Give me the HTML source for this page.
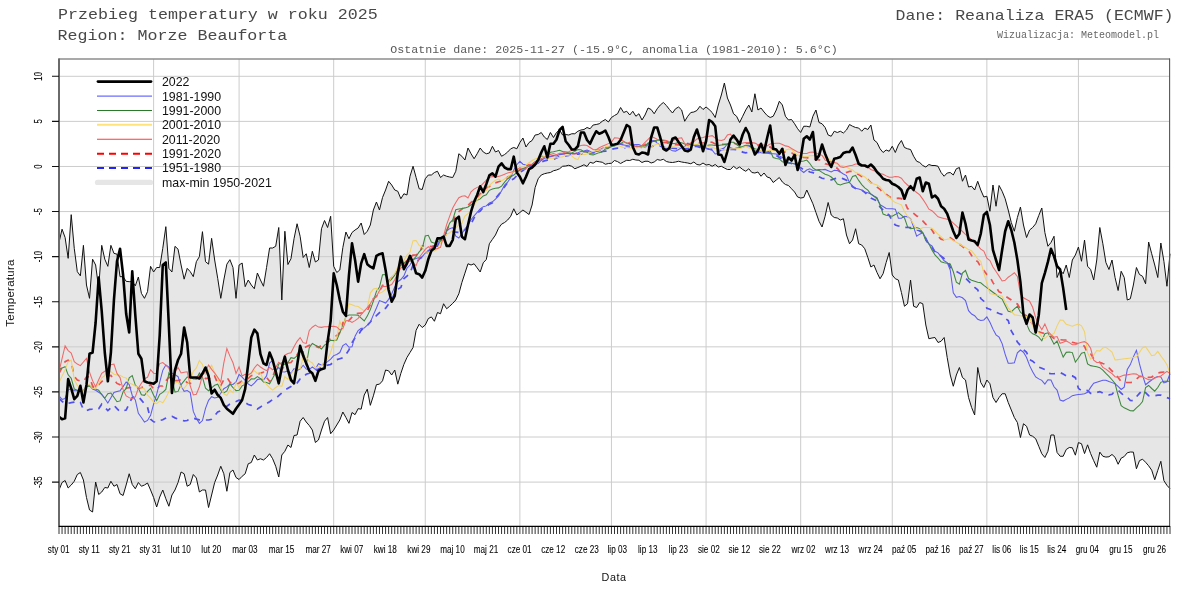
<!DOCTYPE html><html><head><meta charset="utf-8"><style>html,body{margin:0;padding:0;background:#fff;width:1200px;height:600px;overflow:hidden;position:relative}</style></head><body><svg width="1200" height="600" viewBox="0 0 1200 600" style="position:absolute;left:0;top:0;will-change:transform"><path d="M59.00,242.50 L62.05,229.17 L65.10,237.50 L68.16,258.33 L71.21,214.67 L74.26,248.33 L77.31,271.67 L80.37,275.83 L83.42,245.33 L86.47,285.00 L89.52,298.33 L92.57,259.17 L95.63,265.00 L98.68,288.33 L101.73,245.33 L104.78,259.17 L107.84,266.33 L110.89,245.33 L113.94,253.33 L116.99,254.17 L120.04,276.67 L123.10,276.67 L126.15,281.33 L129.20,281.67 L132.25,281.67 L135.30,285.83 L138.36,277.00 L141.41,293.33 L144.46,298.33 L147.51,291.67 L150.57,266.33 L153.62,272.00 L156.67,267.50 L159.72,267.50 L162.77,248.33 L165.83,226.67 L168.88,268.33 L171.93,272.00 L174.98,246.33 L178.04,249.17 L181.09,265.00 L184.14,279.17 L187.19,268.33 L190.24,271.67 L193.30,276.67 L196.35,261.67 L199.40,256.67 L202.45,231.67 L205.51,261.67 L208.56,264.17 L211.61,238.33 L214.66,260.00 L217.71,278.33 L220.77,298.33 L223.82,280.00 L226.87,264.17 L229.92,259.67 L232.98,267.50 L236.03,298.33 L239.08,265.00 L242.13,263.00 L245.18,286.67 L248.24,280.00 L251.29,285.00 L254.34,288.75 L257.39,273.00 L260.45,280.00 L263.50,286.25 L266.55,267.50 L269.60,248.00 L272.65,248.00 L275.71,246.25 L278.76,227.50 L281.81,300.00 L284.86,231.25 L287.91,264.50 L290.97,258.75 L294.02,238.75 L297.07,223.75 L300.12,236.25 L303.18,257.50 L306.23,253.75 L309.28,267.50 L312.33,251.25 L315.38,262.00 L318.44,260.00 L321.49,228.75 L324.54,220.50 L327.59,227.50 L330.65,216.25 L333.70,266.25 L336.75,272.50 L339.80,270.00 L342.85,247.50 L345.91,232.00 L348.96,238.75 L352.01,232.50 L355.06,230.00 L358.12,228.00 L361.17,223.00 L364.22,234.50 L367.27,231.25 L370.32,225.00 L373.38,210.00 L376.43,202.00 L379.48,210.00 L382.53,197.50 L385.59,190.00 L388.64,181.25 L391.69,185.00 L394.74,190.00 L397.79,191.25 L400.85,198.75 L403.90,193.75 L406.95,195.00 L410.00,176.25 L413.05,166.25 L416.11,177.50 L419.16,188.75 L422.21,189.50 L425.26,178.75 L428.32,175.00 L431.37,175.00 L434.42,172.50 L437.47,171.25 L440.52,177.50 L443.58,175.00 L446.63,176.25 L449.68,177.00 L452.73,177.50 L455.79,171.25 L458.84,153.75 L461.89,156.25 L464.94,160.00 L467.99,148.00 L471.05,153.75 L474.10,158.75 L477.15,153.75 L480.20,148.00 L483.26,152.00 L486.31,153.75 L489.36,153.00 L492.41,146.25 L495.46,152.00 L498.52,150.50 L501.57,156.25 L504.62,154.50 L507.67,152.00 L510.73,148.75 L513.78,147.50 L516.83,148.75 L519.88,142.50 L522.93,138.00 L525.99,147.00 L529.04,142.50 L532.09,140.50 L535.14,135.00 L538.20,134.50 L541.25,132.50 L544.30,137.00 L547.35,139.50 L550.40,132.50 L553.46,137.50 L556.51,132.50 L559.56,130.00 L562.61,135.00 L565.66,134.50 L568.72,135.00 L571.77,133.75 L574.82,133.75 L577.87,131.25 L580.93,130.00 L583.98,129.50 L587.03,127.50 L590.08,128.75 L593.13,125.00 L596.19,124.50 L599.24,123.75 L602.29,121.25 L605.34,119.50 L608.40,122.00 L611.45,117.50 L614.50,115.50 L617.55,113.75 L620.60,107.50 L623.66,112.50 L626.71,111.25 L629.76,115.00 L632.81,111.25 L635.87,116.25 L638.92,113.75 L641.97,120.00 L645.02,115.00 L648.07,108.00 L651.13,109.50 L654.18,113.75 L657.23,108.75 L660.28,105.00 L663.34,102.50 L666.39,105.50 L669.44,109.50 L672.49,113.00 L675.54,108.75 L678.60,107.00 L681.65,110.00 L684.70,121.25 L687.75,116.25 L690.80,112.50 L693.86,112.00 L696.91,110.50 L699.96,106.25 L703.01,109.50 L706.07,107.00 L709.12,109.50 L712.17,112.50 L715.22,117.50 L718.27,105.00 L721.33,95.00 L724.38,83.00 L727.43,98.00 L730.48,105.00 L733.54,113.75 L736.59,116.25 L739.64,122.50 L742.69,116.25 L745.74,110.00 L748.80,105.00 L751.85,112.00 L754.90,93.75 L757.95,110.00 L761.01,108.00 L764.06,112.00 L767.11,115.50 L770.16,117.50 L773.21,116.25 L776.27,110.00 L779.32,101.25 L782.37,105.00 L785.42,116.25 L788.48,120.00 L791.53,119.50 L794.58,123.75 L797.63,128.75 L800.68,132.50 L803.74,126.25 L806.79,126.25 L809.84,127.00 L812.89,116.25 L815.95,110.00 L819.00,122.50 L822.05,123.75 L825.10,127.50 L828.15,135.00 L831.21,136.25 L834.26,131.25 L837.31,132.50 L840.36,131.25 L843.41,133.00 L846.47,130.00 L849.52,124.50 L852.57,126.25 L855.62,127.50 L858.68,128.00 L861.73,131.25 L864.78,128.00 L867.83,129.50 L870.88,125.00 L873.94,140.00 L876.99,142.50 L880.04,148.75 L883.09,152.50 L886.15,150.00 L889.20,151.25 L892.25,146.25 L895.30,152.50 L898.35,145.00 L901.41,140.50 L904.46,147.50 L907.51,148.75 L910.56,149.50 L913.62,156.25 L916.67,161.25 L919.72,162.50 L922.77,165.50 L925.82,167.00 L928.88,164.50 L931.93,165.50 L934.98,165.50 L938.03,166.25 L941.09,172.50 L944.14,176.25 L947.19,173.00 L950.24,172.50 L953.29,175.00 L956.35,168.75 L959.40,167.50 L962.45,181.25 L965.50,175.00 L968.55,187.00 L971.61,186.25 L974.66,190.00 L977.71,181.25 L980.76,190.00 L983.82,197.00 L986.87,196.25 L989.92,211.25 L992.97,185.00 L996.02,206.25 L999.08,185.50 L1002.13,191.25 L1005.18,198.75 L1008.23,210.00 L1011.29,222.50 L1014.34,231.25 L1017.39,217.50 L1020.44,207.00 L1023.49,225.00 L1026.55,237.50 L1029.60,230.00 L1032.65,227.50 L1035.70,223.75 L1038.76,215.50 L1041.81,208.00 L1044.86,232.50 L1047.91,246.25 L1050.96,242.50 L1054.02,236.25 L1057.07,277.50 L1060.12,270.00 L1063.17,273.75 L1066.23,265.00 L1069.28,277.50 L1072.33,260.00 L1075.38,255.00 L1078.43,247.00 L1081.49,261.25 L1084.54,240.00 L1087.59,266.25 L1090.64,269.50 L1093.70,280.00 L1096.75,260.00 L1099.80,227.50 L1102.85,243.75 L1105.90,262.50 L1108.96,269.50 L1112.01,260.00 L1115.06,277.50 L1118.11,290.50 L1121.16,271.25 L1124.22,277.50 L1127.27,300.00 L1130.32,298.75 L1133.37,285.00 L1136.43,267.50 L1139.48,274.50 L1142.53,276.25 L1145.58,283.75 L1148.63,242.00 L1151.69,253.75 L1154.74,265.00 L1157.79,277.50 L1160.84,243.00 L1163.90,261.25 L1166.95,286.25 L1170.00,253.75 L1170.00,488.67 L1166.95,485.33 L1163.90,480.67 L1160.84,461.29 L1157.79,470.33 L1154.74,479.71 L1151.69,470.16 L1148.63,465.79 L1145.58,462.25 L1142.53,459.20 L1139.48,460.67 L1136.43,468.75 L1133.37,452.12 L1130.32,452.00 L1127.27,452.78 L1124.22,456.54 L1121.16,458.18 L1118.11,464.25 L1115.06,457.29 L1112.01,454.46 L1108.96,456.75 L1105.90,457.08 L1102.85,456.26 L1099.80,452.12 L1096.75,467.22 L1093.70,460.67 L1090.64,453.58 L1087.59,444.83 L1084.54,453.58 L1081.49,443.74 L1078.43,442.58 L1075.38,455.17 L1072.33,447.75 L1069.28,447.50 L1066.23,449.50 L1063.17,456.25 L1060.12,456.25 L1057.07,452.50 L1054.02,435.00 L1050.96,435.00 L1047.91,451.25 L1044.86,457.50 L1041.81,453.75 L1038.76,446.25 L1035.70,438.75 L1032.65,436.25 L1029.60,435.00 L1026.55,426.25 L1023.49,423.75 L1020.44,437.50 L1017.39,422.50 L1014.34,417.50 L1011.29,410.00 L1008.23,402.50 L1005.18,393.75 L1002.13,393.75 L999.08,397.50 L996.02,402.50 L992.97,397.50 L989.92,383.75 L986.87,380.00 L983.82,387.50 L980.76,382.50 L977.71,367.50 L974.66,415.00 L971.61,407.50 L968.55,397.50 L965.50,380.00 L962.45,377.50 L959.40,367.50 L956.35,375.00 L953.29,386.25 L950.24,375.00 L947.19,357.50 L944.14,337.50 L941.09,341.25 L938.03,342.50 L934.98,337.50 L931.93,338.00 L928.88,338.75 L925.82,325.00 L922.77,303.75 L919.72,302.50 L916.67,307.50 L913.62,306.25 L910.56,280.00 L907.51,303.75 L904.46,306.25 L901.41,292.50 L898.35,280.00 L895.30,278.75 L892.25,275.00 L889.20,252.50 L886.15,262.50 L883.09,273.75 L880.04,278.75 L876.99,272.50 L873.94,265.00 L870.88,267.00 L867.83,257.50 L864.78,248.75 L861.73,245.00 L858.68,243.75 L855.62,228.75 L852.57,240.00 L849.52,243.75 L846.47,235.00 L843.41,218.75 L840.36,220.00 L837.31,218.00 L834.26,217.50 L831.21,215.00 L828.15,202.50 L825.10,216.25 L822.05,227.00 L819.00,221.25 L815.95,212.50 L812.89,203.75 L809.84,196.88 L806.79,190.00 L803.74,197.50 L800.68,198.00 L797.63,197.00 L794.58,192.00 L791.53,188.75 L788.48,185.50 L785.42,184.50 L782.37,182.00 L779.32,177.50 L776.27,180.00 L773.21,182.50 L770.16,178.00 L767.11,177.00 L764.06,173.00 L761.01,176.25 L757.95,172.00 L754.90,173.00 L751.85,172.50 L748.80,168.75 L745.74,171.25 L742.69,169.50 L739.64,167.00 L736.59,168.75 L733.54,166.25 L730.48,169.50 L727.43,169.50 L724.38,168.00 L721.33,166.25 L718.27,167.00 L715.22,164.50 L712.17,166.25 L709.12,164.50 L706.07,165.00 L703.01,163.00 L699.96,165.00 L696.91,164.50 L693.86,162.00 L690.80,163.75 L687.75,163.00 L684.70,162.50 L681.65,162.00 L678.60,161.25 L675.54,162.00 L672.49,162.50 L669.44,162.25 L666.39,161.50 L663.34,159.25 L660.28,160.25 L657.23,159.50 L654.18,162.00 L651.13,163.00 L648.07,161.25 L645.02,161.25 L641.97,162.50 L638.92,160.25 L635.87,160.00 L632.81,159.25 L629.76,160.50 L626.71,160.25 L623.66,161.75 L620.60,163.50 L617.55,161.60 L614.50,160.50 L611.45,163.25 L608.40,163.50 L605.34,164.25 L602.29,162.25 L599.24,161.75 L596.19,161.25 L593.13,163.25 L590.08,162.25 L587.03,166.50 L583.98,164.75 L580.93,166.25 L577.87,167.50 L574.82,168.75 L571.77,166.25 L568.72,165.25 L565.66,166.00 L562.61,166.25 L559.56,168.75 L556.51,170.00 L553.46,170.75 L550.40,172.50 L547.35,173.00 L544.30,173.75 L541.25,175.00 L538.20,178.75 L535.14,187.50 L532.09,205.00 L529.04,214.50 L525.99,212.25 L522.93,210.00 L519.88,212.50 L516.83,215.00 L513.78,208.75 L510.73,216.25 L507.67,220.00 L504.62,222.50 L501.57,224.15 L498.52,228.27 L495.46,235.00 L492.41,239.38 L489.36,243.75 L486.31,259.50 L483.26,262.77 L480.20,272.00 L477.15,267.87 L474.10,263.75 L471.05,265.00 L467.99,263.75 L464.94,273.12 L461.89,282.50 L458.84,293.80 L455.79,300.00 L452.73,303.36 L449.68,306.27 L446.63,308.75 L443.58,303.75 L440.52,313.75 L437.47,312.50 L434.42,321.25 L431.37,316.93 L428.32,318.56 L425.26,325.00 L422.21,327.50 L419.16,324.26 L416.11,330.33 L413.05,347.50 L410.00,352.50 L406.95,357.50 L403.90,364.36 L400.85,373.36 L397.79,384.17 L394.74,370.00 L391.69,375.00 L388.64,370.83 L385.59,370.00 L382.53,380.83 L379.48,384.17 L376.43,384.67 L373.38,395.83 L370.32,405.33 L367.27,389.17 L364.22,395.00 L361.17,409.17 L358.12,408.67 L355.06,414.67 L352.01,412.50 L348.96,423.33 L345.91,417.50 L342.85,412.00 L339.80,420.00 L336.75,425.00 L333.70,430.00 L330.65,433.75 L327.59,417.50 L324.54,421.25 L321.49,430.00 L318.44,440.00 L315.38,442.50 L312.33,430.00 L309.28,425.50 L306.23,422.00 L303.18,417.50 L300.12,421.25 L297.07,435.00 L294.02,435.50 L290.97,447.50 L287.91,445.00 L284.86,451.25 L281.81,455.00 L278.76,477.00 L275.71,466.25 L272.65,458.75 L269.60,453.75 L266.55,457.50 L263.50,460.00 L260.45,458.75 L257.39,460.00 L254.34,455.00 L251.29,462.50 L248.24,463.75 L245.18,473.75 L242.13,476.25 L239.08,479.50 L236.03,477.50 L232.98,470.00 L229.92,472.50 L226.87,491.25 L223.82,473.75 L220.77,466.25 L217.71,475.00 L214.66,482.50 L211.61,495.00 L208.56,507.50 L205.51,490.00 L202.45,490.00 L199.40,492.00 L196.35,478.00 L193.30,474.50 L190.24,484.50 L187.19,486.25 L184.14,473.75 L181.09,472.00 L178.04,482.50 L174.98,490.00 L171.93,495.00 L168.88,506.25 L165.83,498.75 L162.77,490.00 L159.72,497.00 L156.67,507.00 L153.62,497.50 L150.57,490.00 L147.51,483.00 L144.46,485.00 L141.41,486.25 L138.36,482.50 L135.30,488.75 L132.25,484.50 L129.20,473.75 L126.15,485.00 L123.10,495.50 L120.04,493.75 L116.99,484.50 L113.94,486.25 L110.89,481.25 L107.84,488.00 L104.78,487.50 L101.73,492.00 L98.68,494.50 L95.63,482.00 L92.57,512.00 L89.52,510.00 L86.47,497.50 L83.42,480.00 L80.37,472.50 L77.31,474.50 L74.26,481.25 L71.21,485.00 L68.16,488.00 L65.10,480.50 L62.05,482.50 L59.00,490.00 Z" fill="#e6e6e6" stroke="none"/><path d="M59,76.30H1170 M59,121.39H1170 M59,166.48H1170 M59,211.57H1170 M59,256.66H1170 M59,301.75H1170 M59,346.84H1170 M59,391.92H1170 M59,437.01H1170 M59,482.10H1170 M153.62,59V526 M239.08,59V526 M333.70,59V526 M425.26,59V526 M519.88,59V526 M611.45,59V526 M706.07,59V526 M800.68,59V526 M892.25,59V526 M986.87,59V526 M1078.43,59V526" stroke="#cccccc" stroke-width="1" fill="none"/><path d="M59.00,242.50 L62.05,229.17 L65.10,237.50 L68.16,258.33 L71.21,214.67 L74.26,248.33 L77.31,271.67 L80.37,275.83 L83.42,245.33 L86.47,285.00 L89.52,298.33 L92.57,259.17 L95.63,265.00 L98.68,288.33 L101.73,245.33 L104.78,259.17 L107.84,266.33 L110.89,245.33 L113.94,253.33 L116.99,254.17 L120.04,276.67 L123.10,276.67 L126.15,281.33 L129.20,281.67 L132.25,281.67 L135.30,285.83 L138.36,277.00 L141.41,293.33 L144.46,298.33 L147.51,291.67 L150.57,266.33 L153.62,272.00 L156.67,267.50 L159.72,267.50 L162.77,248.33 L165.83,226.67 L168.88,268.33 L171.93,272.00 L174.98,246.33 L178.04,249.17 L181.09,265.00 L184.14,279.17 L187.19,268.33 L190.24,271.67 L193.30,276.67 L196.35,261.67 L199.40,256.67 L202.45,231.67 L205.51,261.67 L208.56,264.17 L211.61,238.33 L214.66,260.00 L217.71,278.33 L220.77,298.33 L223.82,280.00 L226.87,264.17 L229.92,259.67 L232.98,267.50 L236.03,298.33 L239.08,265.00 L242.13,263.00 L245.18,286.67 L248.24,280.00 L251.29,285.00 L254.34,288.75 L257.39,273.00 L260.45,280.00 L263.50,286.25 L266.55,267.50 L269.60,248.00 L272.65,248.00 L275.71,246.25 L278.76,227.50 L281.81,300.00 L284.86,231.25 L287.91,264.50 L290.97,258.75 L294.02,238.75 L297.07,223.75 L300.12,236.25 L303.18,257.50 L306.23,253.75 L309.28,267.50 L312.33,251.25 L315.38,262.00 L318.44,260.00 L321.49,228.75 L324.54,220.50 L327.59,227.50 L330.65,216.25 L333.70,266.25 L336.75,272.50 L339.80,270.00 L342.85,247.50 L345.91,232.00 L348.96,238.75 L352.01,232.50 L355.06,230.00 L358.12,228.00 L361.17,223.00 L364.22,234.50 L367.27,231.25 L370.32,225.00 L373.38,210.00 L376.43,202.00 L379.48,210.00 L382.53,197.50 L385.59,190.00 L388.64,181.25 L391.69,185.00 L394.74,190.00 L397.79,191.25 L400.85,198.75 L403.90,193.75 L406.95,195.00 L410.00,176.25 L413.05,166.25 L416.11,177.50 L419.16,188.75 L422.21,189.50 L425.26,178.75 L428.32,175.00 L431.37,175.00 L434.42,172.50 L437.47,171.25 L440.52,177.50 L443.58,175.00 L446.63,176.25 L449.68,177.00 L452.73,177.50 L455.79,171.25 L458.84,153.75 L461.89,156.25 L464.94,160.00 L467.99,148.00 L471.05,153.75 L474.10,158.75 L477.15,153.75 L480.20,148.00 L483.26,152.00 L486.31,153.75 L489.36,153.00 L492.41,146.25 L495.46,152.00 L498.52,150.50 L501.57,156.25 L504.62,154.50 L507.67,152.00 L510.73,148.75 L513.78,147.50 L516.83,148.75 L519.88,142.50 L522.93,138.00 L525.99,147.00 L529.04,142.50 L532.09,140.50 L535.14,135.00 L538.20,134.50 L541.25,132.50 L544.30,137.00 L547.35,139.50 L550.40,132.50 L553.46,137.50 L556.51,132.50 L559.56,130.00 L562.61,135.00 L565.66,134.50 L568.72,135.00 L571.77,133.75 L574.82,133.75 L577.87,131.25 L580.93,130.00 L583.98,129.50 L587.03,127.50 L590.08,128.75 L593.13,125.00 L596.19,124.50 L599.24,123.75 L602.29,121.25 L605.34,119.50 L608.40,122.00 L611.45,117.50 L614.50,115.50 L617.55,113.75 L620.60,107.50 L623.66,112.50 L626.71,111.25 L629.76,115.00 L632.81,111.25 L635.87,116.25 L638.92,113.75 L641.97,120.00 L645.02,115.00 L648.07,108.00 L651.13,109.50 L654.18,113.75 L657.23,108.75 L660.28,105.00 L663.34,102.50 L666.39,105.50 L669.44,109.50 L672.49,113.00 L675.54,108.75 L678.60,107.00 L681.65,110.00 L684.70,121.25 L687.75,116.25 L690.80,112.50 L693.86,112.00 L696.91,110.50 L699.96,106.25 L703.01,109.50 L706.07,107.00 L709.12,109.50 L712.17,112.50 L715.22,117.50 L718.27,105.00 L721.33,95.00 L724.38,83.00 L727.43,98.00 L730.48,105.00 L733.54,113.75 L736.59,116.25 L739.64,122.50 L742.69,116.25 L745.74,110.00 L748.80,105.00 L751.85,112.00 L754.90,93.75 L757.95,110.00 L761.01,108.00 L764.06,112.00 L767.11,115.50 L770.16,117.50 L773.21,116.25 L776.27,110.00 L779.32,101.25 L782.37,105.00 L785.42,116.25 L788.48,120.00 L791.53,119.50 L794.58,123.75 L797.63,128.75 L800.68,132.50 L803.74,126.25 L806.79,126.25 L809.84,127.00 L812.89,116.25 L815.95,110.00 L819.00,122.50 L822.05,123.75 L825.10,127.50 L828.15,135.00 L831.21,136.25 L834.26,131.25 L837.31,132.50 L840.36,131.25 L843.41,133.00 L846.47,130.00 L849.52,124.50 L852.57,126.25 L855.62,127.50 L858.68,128.00 L861.73,131.25 L864.78,128.00 L867.83,129.50 L870.88,125.00 L873.94,140.00 L876.99,142.50 L880.04,148.75 L883.09,152.50 L886.15,150.00 L889.20,151.25 L892.25,146.25 L895.30,152.50 L898.35,145.00 L901.41,140.50 L904.46,147.50 L907.51,148.75 L910.56,149.50 L913.62,156.25 L916.67,161.25 L919.72,162.50 L922.77,165.50 L925.82,167.00 L928.88,164.50 L931.93,165.50 L934.98,165.50 L938.03,166.25 L941.09,172.50 L944.14,176.25 L947.19,173.00 L950.24,172.50 L953.29,175.00 L956.35,168.75 L959.40,167.50 L962.45,181.25 L965.50,175.00 L968.55,187.00 L971.61,186.25 L974.66,190.00 L977.71,181.25 L980.76,190.00 L983.82,197.00 L986.87,196.25 L989.92,211.25 L992.97,185.00 L996.02,206.25 L999.08,185.50 L1002.13,191.25 L1005.18,198.75 L1008.23,210.00 L1011.29,222.50 L1014.34,231.25 L1017.39,217.50 L1020.44,207.00 L1023.49,225.00 L1026.55,237.50 L1029.60,230.00 L1032.65,227.50 L1035.70,223.75 L1038.76,215.50 L1041.81,208.00 L1044.86,232.50 L1047.91,246.25 L1050.96,242.50 L1054.02,236.25 L1057.07,277.50 L1060.12,270.00 L1063.17,273.75 L1066.23,265.00 L1069.28,277.50 L1072.33,260.00 L1075.38,255.00 L1078.43,247.00 L1081.49,261.25 L1084.54,240.00 L1087.59,266.25 L1090.64,269.50 L1093.70,280.00 L1096.75,260.00 L1099.80,227.50 L1102.85,243.75 L1105.90,262.50 L1108.96,269.50 L1112.01,260.00 L1115.06,277.50 L1118.11,290.50 L1121.16,271.25 L1124.22,277.50 L1127.27,300.00 L1130.32,298.75 L1133.37,285.00 L1136.43,267.50 L1139.48,274.50 L1142.53,276.25 L1145.58,283.75 L1148.63,242.00 L1151.69,253.75 L1154.74,265.00 L1157.79,277.50 L1160.84,243.00 L1163.90,261.25 L1166.95,286.25 L1170.00,253.75" stroke="#111" stroke-width="1" fill="none"/><path d="M59.00,490.00 L62.05,482.50 L65.10,480.50 L68.16,488.00 L71.21,485.00 L74.26,481.25 L77.31,474.50 L80.37,472.50 L83.42,480.00 L86.47,497.50 L89.52,510.00 L92.57,512.00 L95.63,482.00 L98.68,494.50 L101.73,492.00 L104.78,487.50 L107.84,488.00 L110.89,481.25 L113.94,486.25 L116.99,484.50 L120.04,493.75 L123.10,495.50 L126.15,485.00 L129.20,473.75 L132.25,484.50 L135.30,488.75 L138.36,482.50 L141.41,486.25 L144.46,485.00 L147.51,483.00 L150.57,490.00 L153.62,497.50 L156.67,507.00 L159.72,497.00 L162.77,490.00 L165.83,498.75 L168.88,506.25 L171.93,495.00 L174.98,490.00 L178.04,482.50 L181.09,472.00 L184.14,473.75 L187.19,486.25 L190.24,484.50 L193.30,474.50 L196.35,478.00 L199.40,492.00 L202.45,490.00 L205.51,490.00 L208.56,507.50 L211.61,495.00 L214.66,482.50 L217.71,475.00 L220.77,466.25 L223.82,473.75 L226.87,491.25 L229.92,472.50 L232.98,470.00 L236.03,477.50 L239.08,479.50 L242.13,476.25 L245.18,473.75 L248.24,463.75 L251.29,462.50 L254.34,455.00 L257.39,460.00 L260.45,458.75 L263.50,460.00 L266.55,457.50 L269.60,453.75 L272.65,458.75 L275.71,466.25 L278.76,477.00 L281.81,455.00 L284.86,451.25 L287.91,445.00 L290.97,447.50 L294.02,435.50 L297.07,435.00 L300.12,421.25 L303.18,417.50 L306.23,422.00 L309.28,425.50 L312.33,430.00 L315.38,442.50 L318.44,440.00 L321.49,430.00 L324.54,421.25 L327.59,417.50 L330.65,433.75 L333.70,430.00 L336.75,425.00 L339.80,420.00 L342.85,412.00 L345.91,417.50 L348.96,423.33 L352.01,412.50 L355.06,414.67 L358.12,408.67 L361.17,409.17 L364.22,395.00 L367.27,389.17 L370.32,405.33 L373.38,395.83 L376.43,384.67 L379.48,384.17 L382.53,380.83 L385.59,370.00 L388.64,370.83 L391.69,375.00 L394.74,370.00 L397.79,384.17 L400.85,373.36 L403.90,364.36 L406.95,357.50 L410.00,352.50 L413.05,347.50 L416.11,330.33 L419.16,324.26 L422.21,327.50 L425.26,325.00 L428.32,318.56 L431.37,316.93 L434.42,321.25 L437.47,312.50 L440.52,313.75 L443.58,303.75 L446.63,308.75 L449.68,306.27 L452.73,303.36 L455.79,300.00 L458.84,293.80 L461.89,282.50 L464.94,273.12 L467.99,263.75 L471.05,265.00 L474.10,263.75 L477.15,267.87 L480.20,272.00 L483.26,262.77 L486.31,259.50 L489.36,243.75 L492.41,239.38 L495.46,235.00 L498.52,228.27 L501.57,224.15 L504.62,222.50 L507.67,220.00 L510.73,216.25 L513.78,208.75 L516.83,215.00 L519.88,212.50 L522.93,210.00 L525.99,212.25 L529.04,214.50 L532.09,205.00 L535.14,187.50 L538.20,178.75 L541.25,175.00 L544.30,173.75 L547.35,173.00 L550.40,172.50 L553.46,170.75 L556.51,170.00 L559.56,168.75 L562.61,166.25 L565.66,166.00 L568.72,165.25 L571.77,166.25 L574.82,168.75 L577.87,167.50 L580.93,166.25 L583.98,164.75 L587.03,166.50 L590.08,162.25 L593.13,163.25 L596.19,161.25 L599.24,161.75 L602.29,162.25 L605.34,164.25 L608.40,163.50 L611.45,163.25 L614.50,160.50 L617.55,161.60 L620.60,163.50 L623.66,161.75 L626.71,160.25 L629.76,160.50 L632.81,159.25 L635.87,160.00 L638.92,160.25 L641.97,162.50 L645.02,161.25 L648.07,161.25 L651.13,163.00 L654.18,162.00 L657.23,159.50 L660.28,160.25 L663.34,159.25 L666.39,161.50 L669.44,162.25 L672.49,162.50 L675.54,162.00 L678.60,161.25 L681.65,162.00 L684.70,162.50 L687.75,163.00 L690.80,163.75 L693.86,162.00 L696.91,164.50 L699.96,165.00 L703.01,163.00 L706.07,165.00 L709.12,164.50 L712.17,166.25 L715.22,164.50 L718.27,167.00 L721.33,166.25 L724.38,168.00 L727.43,169.50 L730.48,169.50 L733.54,166.25 L736.59,168.75 L739.64,167.00 L742.69,169.50 L745.74,171.25 L748.80,168.75 L751.85,172.50 L754.90,173.00 L757.95,172.00 L761.01,176.25 L764.06,173.00 L767.11,177.00 L770.16,178.00 L773.21,182.50 L776.27,180.00 L779.32,177.50 L782.37,182.00 L785.42,184.50 L788.48,185.50 L791.53,188.75 L794.58,192.00 L797.63,197.00 L800.68,198.00 L803.74,197.50 L806.79,190.00 L809.84,196.88 L812.89,203.75 L815.95,212.50 L819.00,221.25 L822.05,227.00 L825.10,216.25 L828.15,202.50 L831.21,215.00 L834.26,217.50 L837.31,218.00 L840.36,220.00 L843.41,218.75 L846.47,235.00 L849.52,243.75 L852.57,240.00 L855.62,228.75 L858.68,243.75 L861.73,245.00 L864.78,248.75 L867.83,257.50 L870.88,267.00 L873.94,265.00 L876.99,272.50 L880.04,278.75 L883.09,273.75 L886.15,262.50 L889.20,252.50 L892.25,275.00 L895.30,278.75 L898.35,280.00 L901.41,292.50 L904.46,306.25 L907.51,303.75 L910.56,280.00 L913.62,306.25 L916.67,307.50 L919.72,302.50 L922.77,303.75 L925.82,325.00 L928.88,338.75 L931.93,338.00 L934.98,337.50 L938.03,342.50 L941.09,341.25 L944.14,337.50 L947.19,357.50 L950.24,375.00 L953.29,386.25 L956.35,375.00 L959.40,367.50 L962.45,377.50 L965.50,380.00 L968.55,397.50 L971.61,407.50 L974.66,415.00 L977.71,367.50 L980.76,382.50 L983.82,387.50 L986.87,380.00 L989.92,383.75 L992.97,397.50 L996.02,402.50 L999.08,397.50 L1002.13,393.75 L1005.18,393.75 L1008.23,402.50 L1011.29,410.00 L1014.34,417.50 L1017.39,422.50 L1020.44,437.50 L1023.49,423.75 L1026.55,426.25 L1029.60,435.00 L1032.65,436.25 L1035.70,438.75 L1038.76,446.25 L1041.81,453.75 L1044.86,457.50 L1047.91,451.25 L1050.96,435.00 L1054.02,435.00 L1057.07,452.50 L1060.12,456.25 L1063.17,456.25 L1066.23,449.50 L1069.28,447.50 L1072.33,447.75 L1075.38,455.17 L1078.43,442.58 L1081.49,443.74 L1084.54,453.58 L1087.59,444.83 L1090.64,453.58 L1093.70,460.67 L1096.75,467.22 L1099.80,452.12 L1102.85,456.26 L1105.90,457.08 L1108.96,456.75 L1112.01,454.46 L1115.06,457.29 L1118.11,464.25 L1121.16,458.18 L1124.22,456.54 L1127.27,452.78 L1130.32,452.00 L1133.37,452.12 L1136.43,468.75 L1139.48,460.67 L1142.53,459.20 L1145.58,462.25 L1148.63,465.79 L1151.69,470.16 L1154.74,479.71 L1157.79,470.33 L1160.84,461.29 L1163.90,480.67 L1166.95,485.33 L1170.00,488.67" stroke="#111" stroke-width="1" fill="none"/><path d="M59.00,398.33 L62.05,401.30 L65.10,404.15 L68.16,403.38 L71.21,402.56 L74.26,402.18 L77.31,400.96 L80.37,402.36 L83.42,409.65 L86.47,410.65 L89.52,409.43 L92.57,409.24 L95.63,409.91 L98.68,408.83 L101.73,404.20 L104.78,407.28 L107.84,410.58 L110.89,407.86 L113.94,405.30 L116.99,408.66 L120.04,411.66 L123.10,410.89 L126.15,410.06 L129.20,403.67 L132.25,397.46 L135.30,397.05 L138.36,396.68 L141.41,400.13 L144.46,403.86 L147.51,407.19 L150.57,419.28 L153.62,421.80 L156.67,422.20 L159.72,420.41 L162.77,419.81 L165.83,418.09 L168.88,416.28 L171.93,416.36 L174.98,417.87 L178.04,419.01 L181.09,419.88 L184.14,420.88 L187.19,420.53 L190.24,418.38 L193.30,418.16 L196.35,419.09 L199.40,419.93 L202.45,420.00 L205.51,420.00 L208.56,420.00 L211.61,419.28 L214.66,415.80 L217.71,412.03 L220.77,410.73 L223.82,408.33 L226.87,406.19 L229.92,404.03 L232.98,402.81 L236.03,401.59 L239.08,400.18 L242.13,400.53 L245.18,402.59 L248.24,404.56 L251.29,405.34 L254.34,407.32 L257.39,408.97 L260.45,407.04 L263.50,404.50 L266.55,403.61 L269.60,401.70 L272.65,399.59 L275.71,398.68 L278.76,395.62 L281.81,392.87 L284.86,390.06 L287.91,388.25 L290.97,386.42 L294.02,384.29 L297.07,383.12 L300.12,378.99 L303.18,377.74 L306.23,374.17 L309.28,373.23 L312.33,371.33 L315.38,370.75 L318.44,369.08 L321.49,367.44 L324.54,365.76 L327.59,365.15 L330.65,364.46 L333.70,361.86 L336.75,359.71 L339.80,358.78 L342.85,357.86 L345.91,354.52 L348.96,349.89 L352.01,342.66 L355.06,337.79 L358.12,335.08 L361.17,330.37 L364.22,327.20 L367.27,325.42 L370.32,322.05 L373.38,318.08 L376.43,315.68 L379.48,312.70 L382.53,309.41 L385.59,308.26 L388.64,303.98 L391.69,299.97 L394.74,292.79 L397.79,289.25 L400.85,287.42 L403.90,278.69 L406.95,276.05 L410.00,273.43 L413.05,264.95 L416.11,263.75 L419.16,258.91 L422.21,257.30 L425.26,254.84 L428.32,250.84 L431.37,248.94 L434.42,247.06 L437.47,246.06 L440.52,241.24 L443.58,239.39 L446.63,232.88 L449.68,231.71 L452.73,231.94 L455.79,232.13 L458.84,232.32 L461.89,232.40 L464.94,229.55 L467.99,225.90 L471.05,224.08 L474.10,217.93 L477.15,212.64 L480.20,211.08 L483.26,207.31 L486.31,206.42 L489.36,204.16 L492.41,202.79 L495.46,198.27 L498.52,194.90 L501.57,190.60 L504.62,186.65 L507.67,182.44 L510.73,180.20 L513.78,178.74 L516.83,175.67 L519.88,172.56 L522.93,170.45 L525.99,168.14 L529.04,167.12 L532.09,165.10 L535.14,164.34 L538.20,163.07 L541.25,162.19 L544.30,160.87 L547.35,160.11 L550.40,159.71 L553.46,159.39 L556.51,158.00 L559.56,156.53 L562.61,157.07 L565.66,155.90 L568.72,155.47 L571.77,154.56 L574.82,153.93 L577.87,154.14 L580.93,153.82 L583.98,153.63 L587.03,152.99 L590.08,152.97 L593.13,152.86 L596.19,152.55 L599.24,152.36 L602.29,151.48 L605.34,151.21 L608.40,150.20 L611.45,149.29 L614.50,148.62 L617.55,148.12 L620.60,148.12 L623.66,148.12 L626.71,147.01 L629.76,146.88 L632.81,146.39 L635.87,146.32 L638.92,146.90 L641.97,147.46 L645.02,147.39 L648.07,146.96 L651.13,146.73 L654.18,145.83 L657.23,145.03 L660.28,145.93 L663.34,147.22 L666.39,147.56 L669.44,147.87 L672.49,148.12 L675.54,148.38 L678.60,148.69 L681.65,148.75 L684.70,148.75 L687.75,148.71 L690.80,147.65 L693.86,146.44 L696.91,146.41 L699.96,147.29 L703.01,147.56 L706.07,148.39 L709.12,149.26 L712.17,149.47 L715.22,149.91 L718.27,149.97 L721.33,149.68 L724.38,149.40 L727.43,149.38 L730.48,149.38 L733.54,149.42 L736.59,149.72 L739.64,149.99 L742.69,152.20 L745.74,152.93 L748.80,152.00 L751.85,151.95 L754.90,152.39 L757.95,152.52 L761.01,152.79 L764.06,153.09 L767.11,152.11 L770.16,153.07 L773.21,154.67 L776.27,155.37 L779.32,157.52 L782.37,159.34 L785.42,160.84 L788.48,162.74 L791.53,163.44 L794.58,165.03 L797.63,166.28 L800.68,167.84 L803.74,169.68 L806.79,170.30 L809.84,172.06 L812.89,172.60 L815.95,174.61 L819.00,176.84 L822.05,178.25 L825.10,178.76 L828.15,179.77 L831.21,179.85 L834.26,178.84 L837.31,178.17 L840.36,177.55 L843.41,178.86 L846.47,180.18 L849.52,183.01 L852.57,186.89 L855.62,188.54 L858.68,189.78 L861.73,190.00 L864.78,192.29 L867.83,195.12 L870.88,198.14 L873.94,199.46 L876.99,200.99 L880.04,206.89 L883.09,210.08 L886.15,213.19 L889.20,215.02 L892.25,220.88 L895.30,225.04 L898.35,226.04 L901.41,226.43 L904.46,227.43 L907.51,227.50 L910.56,227.50 L913.62,227.78 L916.67,229.58 L919.72,231.11 L922.77,232.75 L925.82,238.59 L928.88,245.22 L931.93,247.21 L934.98,252.49 L938.03,253.93 L941.09,256.14 L944.14,258.46 L947.19,260.39 L950.24,267.26 L953.29,269.48 L956.35,271.31 L959.40,273.14 L962.45,274.99 L965.50,278.00 L968.55,281.05 L971.61,284.11 L974.66,287.33 L977.71,289.76 L980.76,298.55 L983.82,301.15 L986.87,308.20 L989.92,309.23 L992.97,310.94 L996.02,312.16 L999.08,313.57 L1002.13,314.46 L1005.18,318.29 L1008.23,320.60 L1011.29,330.98 L1014.34,336.06 L1017.39,342.06 L1020.44,345.44 L1023.49,349.56 L1026.55,352.29 L1029.60,359.65 L1032.65,361.17 L1035.70,363.92 L1038.76,366.98 L1041.81,368.27 L1044.86,369.54 L1047.91,373.05 L1050.96,373.75 L1054.02,373.75 L1057.07,373.49 L1060.12,372.53 L1063.17,374.09 L1066.23,375.93 L1069.28,375.39 L1072.33,375.89 L1075.38,377.66 L1078.43,388.36 L1081.49,390.75 L1084.54,390.12 L1087.59,390.61 L1090.64,393.32 L1093.70,393.61 L1096.75,392.47 L1099.80,391.60 L1102.85,393.21 L1105.90,393.98 L1108.96,394.87 L1112.01,394.33 L1115.06,390.81 L1118.11,390.26 L1121.16,393.05 L1124.22,395.92 L1127.27,397.01 L1130.32,400.52 L1133.37,400.76 L1136.43,396.83 L1139.48,393.40 L1142.53,390.01 L1145.58,392.57 L1148.63,395.68 L1151.69,396.14 L1154.74,395.66 L1157.79,395.14 L1160.84,395.16 L1163.90,396.46 L1166.95,397.61 L1170.00,398.75" stroke="#5050ee" stroke-width="1.7" fill="none" stroke-dasharray="6 6"/><path d="M59.00,373.33 L62.05,367.40 L65.10,361.65 L68.16,360.31 L71.21,361.81 L74.26,376.39 L77.31,380.08 L80.37,380.92 L83.42,381.62 L86.47,376.92 L89.52,376.95 L92.57,386.06 L95.63,388.02 L98.68,384.65 L101.73,381.64 L104.78,379.17 L107.84,375.87 L110.89,375.49 L113.94,379.33 L116.99,383.43 L120.04,384.70 L123.10,387.74 L126.15,388.26 L129.20,387.65 L132.25,387.54 L135.30,387.95 L138.36,388.33 L141.41,387.56 L144.46,386.90 L147.51,386.24 L150.57,384.85 L153.62,388.98 L156.67,389.50 L159.72,386.00 L162.77,386.00 L165.83,380.98 L168.88,377.12 L171.93,380.27 L174.98,380.67 L178.04,380.67 L181.09,379.66 L184.14,379.51 L187.19,382.66 L190.24,383.41 L193.30,382.63 L196.35,378.54 L199.40,375.01 L202.45,376.71 L205.51,378.55 L208.56,378.07 L211.61,380.03 L214.66,376.14 L217.71,383.42 L220.77,385.53 L223.82,379.71 L226.87,377.29 L229.92,382.17 L232.98,383.50 L236.03,384.50 L239.08,382.99 L242.13,380.78 L245.18,379.95 L248.24,378.36 L251.29,375.68 L254.34,375.00 L257.39,374.20 L260.45,373.13 L263.50,372.25 L266.55,377.38 L269.60,381.41 L272.65,376.86 L275.71,368.60 L278.76,371.41 L281.81,370.19 L284.86,364.61 L287.91,362.97 L290.97,362.56 L294.02,358.70 L297.07,354.82 L300.12,350.39 L303.18,348.41 L306.23,346.78 L309.28,345.36 L312.33,344.33 L315.38,346.03 L318.44,347.46 L321.49,345.29 L324.54,342.41 L327.59,341.30 L330.65,338.48 L333.70,335.94 L336.75,335.67 L339.80,332.45 L342.85,322.94 L345.91,325.24 L348.96,320.44 L352.01,317.06 L355.06,313.75 L358.12,313.36 L361.17,312.98 L364.22,312.55 L367.27,310.80 L370.32,304.51 L373.38,298.72 L376.43,296.49 L379.48,291.15 L382.53,285.50 L385.59,284.29 L388.64,281.36 L391.69,277.49 L394.74,277.33 L397.79,269.71 L400.85,267.18 L403.90,264.16 L406.95,260.28 L410.00,257.50 L413.05,255.10 L416.11,254.82 L419.16,253.47 L422.21,246.27 L425.26,245.03 L428.32,245.83 L431.37,246.63 L434.42,245.57 L437.47,243.84 L440.52,242.83 L443.58,236.42 L446.63,230.52 L449.68,224.31 L452.73,221.72 L455.79,214.18 L458.84,211.64 L461.89,209.05 L464.94,206.40 L467.99,205.34 L471.05,202.32 L474.10,199.91 L477.15,197.52 L480.20,193.75 L483.26,192.37 L486.31,187.85 L489.36,186.55 L492.41,183.53 L495.46,182.82 L498.52,181.69 L501.57,180.90 L504.62,179.77 L507.67,177.03 L510.73,175.87 L513.78,172.93 L516.83,172.04 L519.88,169.90 L522.93,168.27 L525.99,166.04 L529.04,164.65 L532.09,164.80 L535.14,162.21 L538.20,159.68 L541.25,159.68 L544.30,158.57 L547.35,157.52 L550.40,156.51 L553.46,155.76 L556.51,154.85 L559.56,153.92 L562.61,153.75 L565.66,153.75 L568.72,153.75 L571.77,153.75 L574.82,153.75 L577.87,153.03 L580.93,152.07 L583.98,151.78 L587.03,151.28 L590.08,151.24 L593.13,150.73 L596.19,150.11 L599.24,149.78 L602.29,148.93 L605.34,149.42 L608.40,147.74 L611.45,145.35 L614.50,144.83 L617.55,143.95 L620.60,143.80 L623.66,144.36 L626.71,144.93 L629.76,143.92 L632.81,145.70 L635.87,146.21 L638.92,145.92 L641.97,145.65 L645.02,144.89 L648.07,141.81 L651.13,141.25 L654.18,141.25 L657.23,141.25 L660.28,141.71 L663.34,142.36 L666.39,142.67 L669.44,143.61 L672.49,144.37 L675.54,144.63 L678.60,144.94 L681.65,144.93 L684.70,144.61 L687.75,144.35 L690.80,143.82 L693.86,143.22 L696.91,143.12 L699.96,143.12 L703.01,143.08 L706.07,142.53 L709.12,141.95 L712.17,142.24 L715.22,144.00 L718.27,144.38 L721.33,144.38 L724.38,144.38 L727.43,144.17 L730.48,143.29 L733.54,143.21 L736.59,143.81 L739.64,144.35 L742.69,144.15 L745.74,143.27 L748.80,143.23 L751.85,143.85 L754.90,144.37 L757.95,145.36 L761.01,146.63 L764.06,146.97 L767.11,147.48 L770.16,146.98 L773.21,149.96 L776.27,150.73 L779.32,151.34 L782.37,151.86 L785.42,152.12 L788.48,152.44 L791.53,152.88 L794.58,154.79 L797.63,156.26 L800.68,156.78 L803.74,157.39 L806.79,157.65 L809.84,158.53 L812.89,158.78 L815.95,159.32 L819.00,159.92 L822.05,160.60 L825.10,163.68 L828.15,164.51 L831.21,165.92 L834.26,167.35 L837.31,168.27 L840.36,172.10 L843.41,173.29 L846.47,172.43 L849.52,171.33 L852.57,171.46 L855.62,172.97 L858.68,174.57 L861.73,176.41 L864.78,177.46 L867.83,179.39 L870.88,182.59 L873.94,184.66 L876.99,187.15 L880.04,189.28 L883.09,192.83 L886.15,194.13 L889.20,196.55 L892.25,198.67 L895.30,198.47 L898.35,198.14 L901.41,198.56 L904.46,201.59 L907.51,208.44 L910.56,211.05 L913.62,213.34 L916.67,215.94 L919.72,217.22 L922.77,220.86 L925.82,224.27 L928.88,225.77 L931.93,229.98 L934.98,234.83 L938.03,236.41 L941.09,239.20 L944.14,239.92 L947.19,238.62 L950.24,237.59 L953.29,239.85 L956.35,242.03 L959.40,244.21 L962.45,246.39 L965.50,249.29 L968.55,250.70 L971.61,255.48 L974.66,259.77 L977.71,261.63 L980.76,266.92 L983.82,270.58 L986.87,274.62 L989.92,276.69 L992.97,282.66 L996.02,286.93 L999.08,291.85 L1002.13,293.21 L1005.18,295.95 L1008.23,297.99 L1011.29,300.02 L1014.34,302.28 L1017.39,303.99 L1020.44,309.30 L1023.49,314.06 L1026.55,315.90 L1029.60,320.37 L1032.65,323.93 L1035.70,327.49 L1038.76,331.77 L1041.81,332.73 L1044.86,333.71 L1047.91,335.05 L1050.96,336.18 L1054.02,338.50 L1057.07,338.75 L1060.12,339.69 L1063.17,340.00 L1066.23,340.00 L1069.28,340.31 L1072.33,342.21 L1075.38,342.98 L1078.43,343.62 L1081.49,344.37 L1084.54,346.36 L1087.59,353.39 L1090.64,353.91 L1093.70,358.82 L1096.75,361.12 L1099.80,362.35 L1102.85,363.48 L1105.90,364.20 L1108.96,367.71 L1112.01,371.00 L1115.06,372.69 L1118.11,377.56 L1121.16,381.75 L1124.22,382.50 L1127.27,382.50 L1130.32,382.50 L1133.37,382.14 L1136.43,379.23 L1139.48,376.47 L1142.53,376.41 L1145.58,376.95 L1148.63,377.41 L1151.69,377.08 L1154.74,375.13 L1157.79,373.05 L1160.84,372.45 L1163.90,372.01 L1166.95,371.63 L1170.00,371.25" stroke="#ee5050" stroke-width="1.7" fill="none" stroke-dasharray="6 6"/><path d="M59.00,395.83 L62.05,399.38 L65.10,398.45 L68.16,389.95 L71.21,388.64 L74.26,390.65 L77.31,390.83 L80.37,390.83 L83.42,390.78 L86.47,386.09 L89.52,385.45 L92.57,389.09 L95.63,390.20 L98.68,392.30 L101.73,394.21 L104.78,398.45 L107.84,402.99 L110.89,397.81 L113.94,392.42 L116.99,391.59 L120.04,390.80 L123.10,386.58 L126.15,382.02 L129.20,384.52 L132.25,395.45 L135.30,399.95 L138.36,413.35 L141.41,417.56 L144.46,422.13 L147.51,420.41 L150.57,415.33 L153.62,404.21 L156.67,394.32 L159.72,382.24 L162.77,370.34 L165.83,365.05 L168.88,367.10 L171.93,373.11 L174.98,374.66 L178.04,376.71 L181.09,386.07 L184.14,391.36 L187.19,390.55 L190.24,392.55 L193.30,411.42 L196.35,418.34 L199.40,423.38 L202.45,420.57 L205.51,408.41 L208.56,400.29 L211.61,396.74 L214.66,397.92 L217.71,397.16 L220.77,393.31 L223.82,388.69 L226.87,386.90 L229.92,384.09 L232.98,384.44 L236.03,381.90 L239.08,374.43 L242.13,377.18 L245.18,380.38 L248.24,384.03 L251.29,385.92 L254.34,383.16 L257.39,379.57 L260.45,378.88 L263.50,380.00 L266.55,375.94 L269.60,363.04 L272.65,360.45 L275.71,370.18 L278.76,367.62 L281.81,371.80 L284.86,372.08 L287.91,370.76 L290.97,373.44 L294.02,368.74 L297.07,370.40 L300.12,369.12 L303.18,365.29 L306.23,369.10 L309.28,369.57 L312.33,366.93 L315.38,369.37 L318.44,363.69 L321.49,365.06 L324.54,363.47 L327.59,361.61 L330.65,359.10 L333.70,355.62 L336.75,354.56 L339.80,352.55 L342.85,345.63 L345.91,343.59 L348.96,347.30 L352.01,346.78 L355.06,336.20 L358.12,330.58 L361.17,328.38 L364.22,328.06 L367.27,325.17 L370.32,322.14 L373.38,314.90 L376.43,308.04 L379.48,300.58 L382.53,301.69 L385.59,303.07 L388.64,299.37 L391.69,293.69 L394.74,286.96 L397.79,281.73 L400.85,279.52 L403.90,275.96 L406.95,268.19 L410.00,265.00 L413.05,259.41 L416.11,258.47 L419.16,257.61 L422.21,256.67 L425.26,253.03 L428.32,250.64 L431.37,248.35 L434.42,246.00 L437.47,244.18 L440.52,241.09 L443.58,237.14 L446.63,231.07 L449.68,228.63 L452.73,227.60 L455.79,236.10 L458.84,237.99 L461.89,233.43 L464.94,229.22 L467.99,225.00 L471.05,219.71 L474.10,215.86 L477.15,212.42 L480.20,208.95 L483.26,206.69 L486.31,205.90 L489.36,202.88 L492.41,201.85 L495.46,199.20 L498.52,195.90 L501.57,190.81 L504.62,185.19 L507.67,182.13 L510.73,177.60 L513.78,169.95 L516.83,164.71 L519.88,161.31 L522.93,164.23 L525.99,165.00 L529.04,165.94 L532.09,166.98 L535.14,164.19 L538.20,163.49 L541.25,160.47 L544.30,158.25 L547.35,157.50 L550.40,156.39 L553.46,155.49 L556.51,156.02 L559.56,154.63 L562.61,154.14 L565.66,153.57 L568.72,153.18 L571.77,153.48 L574.82,153.74 L577.87,152.79 L580.93,151.51 L583.98,151.07 L587.03,150.06 L590.08,151.29 L593.13,152.44 L596.19,151.51 L599.24,151.10 L602.29,148.31 L605.34,147.47 L608.40,146.82 L611.45,146.21 L614.50,144.95 L617.55,143.76 L620.60,144.37 L623.66,144.99 L626.71,145.56 L629.76,145.08 L632.81,144.80 L635.87,144.58 L638.92,144.42 L641.97,145.98 L645.02,147.49 L648.07,144.43 L651.13,140.69 L654.18,140.56 L657.23,143.15 L660.28,145.07 L663.34,146.67 L666.39,148.47 L669.44,149.07 L672.49,150.83 L675.54,151.11 L678.60,149.45 L681.65,147.71 L684.70,146.54 L687.75,143.17 L690.80,144.23 L693.86,145.43 L696.91,145.78 L699.96,146.66 L703.01,146.96 L706.07,148.06 L709.12,149.23 L712.17,150.24 L715.22,153.96 L718.27,153.46 L721.33,149.28 L724.38,147.81 L727.43,143.78 L730.48,147.74 L733.54,148.66 L736.59,148.07 L739.64,147.53 L742.69,147.16 L745.74,145.84 L748.80,146.00 L751.85,148.16 L754.90,149.97 L757.95,151.23 L761.01,152.81 L764.06,153.12 L767.11,153.12 L770.16,153.71 L773.21,153.75 L776.27,154.07 L779.32,155.91 L782.37,157.47 L785.42,159.69 L788.48,162.55 L791.53,163.25 L794.58,163.89 L797.63,164.92 L800.68,170.23 L803.74,172.50 L806.79,170.07 L809.84,168.81 L812.89,170.53 L815.95,169.94 L819.00,169.59 L822.05,169.72 L825.10,169.40 L828.15,170.64 L831.21,171.87 L834.26,170.19 L837.31,170.55 L840.36,172.06 L843.41,173.98 L846.47,175.57 L849.52,182.73 L852.57,185.93 L855.62,188.16 L858.68,188.98 L861.73,189.98 L864.78,192.05 L867.83,192.71 L870.88,193.97 L873.94,195.98 L876.99,197.74 L880.04,204.70 L883.09,206.55 L886.15,208.41 L889.20,208.75 L892.25,208.75 L895.30,209.15 L898.35,218.22 L901.41,218.22 L904.46,216.36 L907.51,216.75 L910.56,218.61 L913.62,227.05 L916.67,236.12 L919.72,234.17 L922.77,232.73 L925.82,238.04 L928.88,244.06 L931.93,245.96 L934.98,251.24 L938.03,252.81 L941.09,256.68 L944.14,260.75 L947.19,262.62 L950.24,270.04 L953.29,292.81 L956.35,297.37 L959.40,296.44 L962.45,297.81 L965.50,300.63 L968.55,310.69 L971.61,314.07 L974.66,315.72 L977.71,319.24 L980.76,320.41 L983.82,319.90 L986.87,316.88 L989.92,322.31 L992.97,329.14 L996.02,334.81 L999.08,337.19 L1002.13,343.63 L1005.18,354.35 L1008.23,363.22 L1011.29,363.22 L1014.34,362.79 L1017.39,352.87 L1020.44,350.00 L1023.49,352.22 L1026.55,357.54 L1029.60,365.62 L1032.65,371.65 L1035.70,376.96 L1038.76,378.91 L1041.81,380.37 L1044.86,384.11 L1047.91,379.69 L1050.96,380.10 L1054.02,386.76 L1057.07,390.09 L1060.12,400.12 L1063.17,401.08 L1066.23,399.39 L1069.28,397.86 L1072.33,395.67 L1075.38,394.98 L1078.43,394.57 L1081.49,394.19 L1084.54,393.78 L1087.59,392.29 L1090.64,387.40 L1093.70,383.23 L1096.75,382.28 L1099.80,381.30 L1102.85,380.27 L1105.90,380.17 L1108.96,381.48 L1112.01,382.63 L1115.06,383.78 L1118.11,386.34 L1121.16,389.44 L1124.22,387.14 L1127.27,369.55 L1130.32,364.61 L1133.37,356.90 L1136.43,350.35 L1139.48,363.96 L1142.53,375.11 L1145.58,384.78 L1148.63,382.27 L1151.69,379.98 L1154.74,377.60 L1157.79,376.53 L1160.84,376.88 L1163.90,382.92 L1166.95,381.80 L1170.00,373.75" stroke="#5c5cf0" stroke-width="1.05" fill="none"/><path d="M59.00,369.17 L62.05,367.89 L65.10,366.77 L68.16,374.82 L71.21,378.28 L74.26,389.01 L77.31,390.29 L80.37,391.50 L83.42,390.90 L86.47,386.65 L89.52,386.07 L92.57,387.53 L95.63,388.96 L98.68,390.27 L101.73,394.74 L104.78,398.21 L107.84,393.76 L110.89,393.03 L113.94,397.23 L116.99,401.70 L120.04,400.90 L123.10,391.78 L126.15,388.71 L129.20,377.77 L132.25,375.68 L135.30,385.08 L138.36,388.08 L141.41,394.79 L144.46,395.31 L147.51,391.41 L150.57,388.41 L153.62,395.32 L156.67,400.58 L159.72,394.29 L162.77,392.44 L165.83,389.40 L168.88,372.95 L171.93,378.51 L174.98,392.02 L178.04,391.41 L181.09,384.61 L184.14,380.90 L187.19,376.95 L190.24,377.15 L193.30,378.92 L196.35,378.94 L199.40,372.94 L202.45,377.11 L205.51,388.24 L208.56,390.77 L211.61,387.86 L214.66,385.25 L217.71,384.20 L220.77,390.12 L223.82,392.90 L226.87,390.92 L229.92,383.82 L232.98,387.60 L236.03,390.63 L239.08,390.24 L242.13,385.85 L245.18,384.28 L248.24,381.76 L251.29,378.78 L254.34,378.99 L257.39,376.61 L260.45,378.57 L263.50,381.94 L266.55,382.50 L269.60,383.75 L272.65,378.14 L275.71,372.57 L278.76,364.09 L281.81,362.86 L284.86,364.40 L287.91,362.61 L290.97,357.63 L294.02,358.34 L297.07,355.94 L300.12,352.01 L303.18,351.60 L306.23,365.28 L309.28,347.67 L312.33,343.46 L315.38,345.20 L318.44,346.75 L321.49,348.93 L324.54,345.08 L327.59,342.85 L330.65,340.18 L333.70,340.62 L336.75,339.94 L339.80,332.83 L342.85,325.92 L345.91,316.59 L348.96,315.00 L352.01,315.00 L355.06,315.00 L358.12,315.26 L361.17,318.06 L364.22,320.92 L367.27,316.11 L370.32,309.57 L373.38,301.00 L376.43,291.43 L379.48,287.03 L382.53,274.80 L385.59,274.48 L388.64,282.05 L391.69,279.15 L394.74,275.16 L397.79,268.87 L400.85,265.60 L403.90,262.60 L406.95,261.59 L410.00,261.25 L413.05,260.05 L416.11,256.36 L419.16,251.91 L422.21,248.66 L425.26,236.01 L428.32,235.30 L431.37,241.98 L434.42,243.12 L437.47,241.68 L440.52,240.23 L443.58,238.24 L446.63,230.88 L449.68,223.13 L452.73,219.95 L455.79,209.81 L458.84,209.07 L461.89,208.53 L464.94,207.88 L467.99,207.00 L471.05,204.80 L474.10,202.41 L477.15,200.28 L480.20,198.93 L483.26,195.91 L486.31,194.85 L489.36,190.32 L492.41,188.97 L495.46,188.21 L498.52,187.87 L501.57,186.11 L504.62,182.13 L507.67,178.73 L510.73,176.81 L513.78,174.99 L516.83,172.54 L519.88,169.92 L522.93,168.51 L525.99,167.40 L529.04,166.39 L532.09,164.24 L535.14,161.77 L538.20,159.72 L541.25,156.00 L544.30,156.69 L547.35,157.46 L550.40,152.34 L553.46,151.76 L556.51,151.09 L559.56,150.32 L562.61,151.52 L565.66,151.94 L568.72,152.87 L571.77,153.00 L574.82,151.34 L577.87,149.59 L580.93,149.81 L583.98,151.67 L587.03,152.30 L590.08,154.50 L593.13,154.89 L596.19,153.77 L599.24,152.63 L602.29,151.81 L605.34,149.02 L608.40,148.32 L611.45,146.46 L614.50,145.92 L617.55,144.16 L620.60,143.60 L623.66,141.59 L626.71,142.91 L629.76,143.75 L632.81,145.70 L635.87,146.29 L638.92,146.58 L641.97,146.85 L645.02,146.14 L648.07,143.06 L651.13,142.31 L654.18,141.11 L657.23,140.04 L660.28,140.23 L663.34,140.56 L666.39,140.91 L669.44,142.47 L672.49,143.75 L675.54,143.24 L678.60,142.62 L681.65,142.77 L684.70,144.07 L687.75,144.99 L690.80,144.72 L693.86,144.42 L696.91,144.61 L699.96,145.93 L703.01,146.21 L706.07,145.66 L709.12,145.07 L712.17,145.09 L715.22,145.53 L718.27,145.56 L721.33,144.99 L724.38,144.43 L727.43,143.97 L730.48,142.21 L733.54,142.22 L736.59,144.60 L739.64,146.76 L742.69,146.54 L745.74,145.22 L748.80,145.32 L751.85,147.17 L754.90,148.73 L757.95,149.73 L761.01,151.00 L764.06,151.35 L767.11,151.85 L770.16,150.85 L773.21,157.57 L776.27,158.50 L779.32,158.92 L782.37,161.71 L785.42,162.53 L788.48,162.93 L791.53,163.32 L794.58,163.72 L797.63,163.31 L800.68,161.55 L803.74,161.10 L806.79,160.09 L809.84,163.52 L812.89,167.98 L815.95,170.00 L819.00,170.37 L822.05,172.39 L825.10,174.27 L828.15,175.16 L831.21,177.03 L834.26,179.65 L837.31,184.10 L840.36,184.94 L843.41,183.86 L846.47,182.98 L849.52,182.26 L852.57,176.42 L855.62,175.39 L858.68,180.42 L861.73,184.61 L864.78,187.97 L867.83,190.17 L870.88,194.19 L873.94,196.42 L876.99,198.74 L880.04,204.74 L883.09,214.12 L886.15,215.17 L889.20,215.78 L892.25,216.23 L895.30,214.57 L898.35,212.62 L901.41,215.10 L904.46,217.88 L907.51,226.68 L910.56,228.70 L913.62,228.15 L916.67,227.57 L919.72,228.61 L922.77,232.77 L925.82,240.82 L928.88,243.65 L931.93,249.88 L934.98,254.98 L938.03,258.03 L941.09,261.79 L944.14,262.64 L947.19,263.28 L950.24,264.04 L953.29,271.75 L956.35,282.08 L959.40,284.22 L962.45,273.06 L965.50,270.50 L968.55,278.55 L971.61,280.20 L974.66,281.16 L977.71,282.21 L980.76,282.79 L983.82,285.36 L986.87,287.65 L989.92,289.97 L992.97,292.23 L996.02,294.52 L999.08,297.15 L1002.13,299.10 L1005.18,305.27 L1008.23,311.18 L1011.29,311.96 L1014.34,308.89 L1017.39,306.30 L1020.44,312.21 L1023.49,314.87 L1026.55,323.93 L1029.60,331.05 L1032.65,333.82 L1035.70,335.00 L1038.76,337.16 L1041.81,340.76 L1044.86,333.72 L1047.91,332.84 L1050.96,338.27 L1054.02,344.18 L1057.07,341.02 L1060.12,349.15 L1063.17,357.08 L1066.23,352.36 L1069.28,351.97 L1072.33,352.61 L1075.38,362.10 L1078.43,358.07 L1081.49,353.27 L1084.54,352.37 L1087.59,363.97 L1090.64,365.63 L1093.70,366.24 L1096.75,366.85 L1099.80,367.66 L1102.85,370.18 L1105.90,373.40 L1108.96,376.46 L1112.01,379.75 L1115.06,383.52 L1118.11,395.43 L1121.16,405.66 L1124.22,407.82 L1127.27,409.29 L1130.32,410.84 L1133.37,410.89 L1136.43,407.98 L1139.48,405.22 L1142.53,401.63 L1145.58,387.56 L1148.63,385.47 L1151.69,388.49 L1154.74,391.14 L1157.79,387.53 L1160.84,382.35 L1163.90,381.25 L1166.95,381.25 L1170.00,381.25" stroke="#3f873f" stroke-width="1.05" fill="none"/><path d="M59.00,382.50 L62.05,376.14 L65.10,369.90 L68.16,361.65 L71.21,360.00 L74.26,379.67 L77.31,385.32 L80.37,388.70 L83.42,391.60 L86.47,385.56 L89.52,384.61 L92.57,388.26 L95.63,388.70 L98.68,383.65 L101.73,377.87 L104.78,375.58 L107.84,369.54 L110.89,371.72 L113.94,374.22 L116.99,374.89 L120.04,375.32 L123.10,377.14 L126.15,378.07 L129.20,382.93 L132.25,384.31 L135.30,385.99 L138.36,387.50 L141.41,388.04 L144.46,388.95 L147.51,395.22 L150.57,398.14 L153.62,402.04 L156.67,403.69 L159.72,401.07 L162.77,402.83 L165.83,397.91 L168.88,391.61 L171.93,384.27 L174.98,383.09 L178.04,382.04 L181.09,387.05 L184.14,388.38 L187.19,384.44 L190.24,380.72 L193.30,371.33 L196.35,367.93 L199.40,360.52 L202.45,364.50 L205.51,374.50 L208.56,370.51 L211.61,365.15 L214.66,372.60 L217.71,377.95 L220.77,388.07 L223.82,393.76 L226.87,395.48 L229.92,390.06 L232.98,392.61 L236.03,382.69 L239.08,387.56 L242.13,381.61 L245.18,385.13 L248.24,375.61 L251.29,372.90 L254.34,370.78 L257.39,373.49 L260.45,372.79 L263.50,380.53 L266.55,384.48 L269.60,387.71 L272.65,390.05 L275.71,387.49 L278.76,385.47 L281.81,386.41 L284.86,376.61 L287.91,379.11 L290.97,373.48 L294.02,370.47 L297.07,366.72 L300.12,369.18 L303.18,357.05 L306.23,357.04 L309.28,361.15 L312.33,363.00 L315.38,368.08 L318.44,366.79 L321.49,365.21 L324.54,361.86 L327.59,359.72 L330.65,352.43 L333.70,342.42 L336.75,337.61 L339.80,321.18 L342.85,329.26 L345.91,315.69 L348.96,303.78 L352.01,304.68 L355.06,305.90 L358.12,306.46 L361.17,308.70 L364.22,310.99 L367.27,308.03 L370.32,293.08 L373.38,289.09 L376.43,288.39 L379.48,293.43 L382.53,291.85 L385.59,289.41 L388.64,282.73 L391.69,276.46 L394.74,273.51 L397.79,267.30 L400.85,266.65 L403.90,260.54 L406.95,255.00 L410.00,252.03 L413.05,240.65 L416.11,240.49 L419.16,245.34 L422.21,246.94 L425.26,251.80 L428.32,252.34 L431.37,251.56 L434.42,250.89 L437.47,249.13 L440.52,242.45 L443.58,240.47 L446.63,234.40 L449.68,232.84 L452.73,230.09 L455.79,227.84 L458.84,224.80 L461.89,223.11 L464.94,216.06 L467.99,213.60 L471.05,211.19 L474.10,205.36 L477.15,200.28 L480.20,195.90 L483.26,192.37 L486.31,190.65 L489.36,185.37 L492.41,182.61 L495.46,180.25 L498.52,179.13 L501.57,180.89 L504.62,179.06 L507.67,177.15 L510.73,174.72 L513.78,171.50 L516.83,169.35 L519.88,167.85 L522.93,166.92 L525.99,165.01 L529.04,162.80 L532.09,160.49 L535.14,159.01 L538.20,157.91 L541.25,155.39 L544.30,156.50 L547.35,158.12 L550.40,158.12 L553.46,158.12 L556.51,157.75 L559.56,157.16 L562.61,156.67 L565.66,155.28 L568.72,155.00 L571.77,155.86 L574.82,158.56 L577.87,159.68 L580.93,153.21 L583.98,154.69 L587.03,153.90 L590.08,152.46 L593.13,151.20 L596.19,150.64 L599.24,150.06 L602.29,149.43 L605.34,146.79 L608.40,146.18 L611.45,145.59 L614.50,145.04 L617.55,145.36 L620.60,146.60 L623.66,147.49 L626.71,147.50 L629.76,148.04 L632.81,148.12 L635.87,148.05 L638.92,147.47 L641.97,146.92 L645.02,146.98 L648.07,147.42 L651.13,147.22 L654.18,145.41 L657.23,143.82 L660.28,145.14 L663.34,147.08 L666.39,147.44 L669.44,147.13 L672.49,146.88 L675.54,147.13 L678.60,147.44 L681.65,147.43 L684.70,147.11 L687.75,146.83 L690.80,145.77 L693.86,144.57 L696.91,144.30 L699.96,143.86 L703.01,143.86 L706.07,145.24 L709.12,146.69 L712.17,147.15 L715.22,148.47 L718.27,148.81 L721.33,149.39 L724.38,149.95 L727.43,149.80 L730.48,148.92 L733.54,148.75 L736.59,148.75 L739.64,148.75 L742.69,147.41 L745.74,146.39 L748.80,147.90 L751.85,148.36 L754.90,149.68 L757.95,150.06 L761.01,150.88 L764.06,151.76 L767.11,150.86 L770.16,150.05 L773.21,150.51 L776.27,150.68 L779.32,150.98 L782.37,151.24 L785.42,150.28 L788.48,149.00 L791.53,149.39 L794.58,152.57 L797.63,155.02 L800.68,155.80 L803.74,156.72 L806.79,156.73 L809.84,155.85 L812.89,155.61 L815.95,155.34 L819.00,155.04 L822.05,155.43 L825.10,157.63 L828.15,158.37 L831.21,160.90 L834.26,163.47 L837.31,164.04 L840.36,165.36 L843.41,165.82 L846.47,167.28 L849.52,168.65 L852.57,169.95 L855.62,172.54 L858.68,173.42 L861.73,175.24 L864.78,176.98 L867.83,179.86 L870.88,183.08 L873.94,183.93 L876.99,184.94 L880.04,186.80 L883.09,190.74 L886.15,195.40 L889.20,196.96 L892.25,200.21 L895.30,202.55 L898.35,203.62 L901.41,204.82 L904.46,211.62 L907.51,216.26 L910.56,219.17 L913.62,224.17 L916.67,229.38 L919.72,229.45 L922.77,227.50 L925.82,227.50 L928.88,227.50 L931.93,228.22 L934.98,231.24 L938.03,234.26 L941.09,236.52 L944.14,239.96 L947.19,239.31 L950.24,238.82 L953.29,240.60 L956.35,242.32 L959.40,244.04 L962.45,245.75 L965.50,247.47 L968.55,249.59 L971.61,250.80 L974.66,254.66 L977.71,258.86 L980.76,261.29 L983.82,272.88 L986.87,283.18 L989.92,293.62 L992.97,294.34 L996.02,294.95 L999.08,295.57 L1002.13,296.21 L1005.18,302.26 L1008.23,307.87 L1011.29,311.29 L1014.34,314.67 L1017.39,315.15 L1020.44,315.68 L1023.49,316.16 L1026.55,316.44 L1029.60,317.45 L1032.65,325.75 L1035.70,329.45 L1038.76,332.51 L1041.81,336.84 L1044.86,338.28 L1047.91,335.70 L1050.96,335.00 L1054.02,333.48 L1057.07,325.86 L1060.12,320.00 L1063.17,320.34 L1066.23,324.36 L1069.28,325.22 L1072.33,326.14 L1075.38,324.95 L1078.43,323.95 L1081.49,325.80 L1084.54,331.73 L1087.59,352.82 L1090.64,358.95 L1093.70,355.07 L1096.75,350.50 L1099.80,351.10 L1102.85,347.91 L1105.90,347.27 L1108.96,349.69 L1112.01,352.01 L1115.06,360.00 L1118.11,359.61 L1121.16,359.23 L1124.22,358.85 L1127.27,358.47 L1130.32,358.08 L1133.37,357.60 L1136.43,356.70 L1139.48,352.46 L1142.53,347.64 L1145.58,346.64 L1148.63,351.10 L1151.69,355.71 L1154.74,355.13 L1157.79,351.45 L1160.84,355.85 L1163.90,360.04 L1166.95,364.62 L1170.00,373.33" stroke="#f2d265" stroke-width="1.05" fill="none"/><path d="M59.00,371.67 L62.05,358.53 L65.10,345.89 L68.16,350.59 L71.21,352.98 L74.26,361.70 L77.31,364.05 L80.37,365.63 L83.42,361.99 L86.47,358.44 L89.52,372.26 L92.57,380.62 L95.63,386.83 L98.68,379.68 L101.73,373.32 L104.78,371.30 L107.84,370.18 L110.89,364.71 L113.94,364.04 L116.99,373.43 L120.04,377.57 L123.10,389.64 L126.15,395.86 L129.20,397.64 L132.25,398.99 L135.30,397.03 L138.36,388.31 L141.41,383.26 L144.46,378.65 L147.51,377.25 L150.57,369.65 L153.62,373.20 L156.67,373.68 L159.72,363.60 L162.77,362.55 L165.83,365.18 L168.88,368.04 L171.93,376.48 L174.98,372.02 L178.04,367.54 L181.09,372.96 L184.14,372.18 L187.19,371.72 L190.24,385.82 L193.30,394.95 L196.35,394.24 L199.40,386.78 L202.45,375.27 L205.51,371.83 L208.56,364.96 L211.61,369.34 L214.66,373.05 L217.71,377.23 L220.77,382.06 L223.82,362.90 L226.87,348.46 L229.92,356.16 L232.98,362.79 L236.03,373.39 L239.08,366.86 L242.13,376.07 L245.18,374.23 L248.24,374.87 L251.29,373.01 L254.34,367.96 L257.39,364.46 L260.45,367.01 L263.50,368.97 L266.55,370.63 L269.60,367.35 L272.65,369.77 L275.71,367.57 L278.76,362.28 L281.81,364.87 L284.86,355.22 L287.91,353.54 L290.97,352.82 L294.02,346.80 L297.07,341.31 L300.12,337.57 L303.18,342.65 L306.23,343.46 L309.28,330.46 L312.33,327.22 L315.38,325.10 L318.44,327.11 L321.49,327.38 L324.54,326.70 L327.59,326.61 L330.65,326.43 L333.70,326.28 L336.75,326.91 L339.80,329.84 L342.85,328.38 L345.91,320.80 L348.96,320.49 L352.01,322.40 L355.06,320.58 L358.12,318.40 L361.17,314.62 L364.22,311.19 L367.27,307.63 L370.32,303.73 L373.38,298.58 L376.43,296.43 L379.48,290.78 L382.53,286.28 L385.59,286.59 L388.64,285.76 L391.69,284.53 L394.74,279.73 L397.79,272.97 L400.85,267.95 L403.90,266.55 L406.95,265.11 L410.00,258.66 L413.05,262.92 L416.11,265.67 L419.16,257.51 L422.21,253.49 L425.26,249.45 L428.32,246.72 L431.37,249.89 L434.42,249.26 L437.47,248.54 L440.52,247.42 L443.58,235.90 L446.63,224.64 L449.68,216.09 L452.73,208.06 L455.79,202.53 L458.84,197.70 L461.89,196.29 L464.94,195.79 L467.99,198.00 L471.05,191.83 L474.10,189.17 L477.15,187.36 L480.20,186.41 L483.26,183.33 L486.31,180.14 L489.36,177.47 L492.41,176.53 L495.46,176.97 L498.52,176.38 L501.57,175.40 L504.62,174.15 L507.67,172.88 L510.73,172.15 L513.78,171.50 L516.83,170.10 L519.88,167.73 L522.93,169.73 L525.99,168.88 L529.04,164.54 L532.09,164.16 L535.14,162.15 L538.20,160.90 L541.25,158.75 L544.30,157.32 L547.35,156.39 L550.40,154.58 L553.46,153.48 L556.51,154.77 L559.56,153.38 L562.61,152.99 L565.66,152.06 L568.72,151.69 L571.77,150.30 L574.82,149.62 L577.87,146.37 L580.93,145.57 L583.98,145.06 L587.03,145.51 L590.08,147.52 L593.13,149.53 L596.19,149.70 L599.24,147.69 L602.29,146.35 L605.34,144.93 L608.40,143.64 L611.45,142.37 L614.50,137.83 L617.55,137.92 L620.60,138.70 L623.66,141.46 L626.71,143.43 L629.76,142.25 L632.81,146.25 L635.87,146.25 L638.92,146.25 L641.97,145.51 L645.02,142.49 L648.07,139.43 L651.13,136.31 L654.18,137.71 L657.23,139.31 L660.28,139.65 L663.34,139.98 L666.39,140.40 L669.44,141.79 L672.49,141.25 L675.54,138.93 L678.60,138.16 L681.65,137.80 L684.70,143.84 L687.75,144.62 L690.80,142.61 L693.86,141.72 L696.91,138.93 L699.96,138.13 L703.01,137.44 L706.07,136.43 L709.12,136.15 L712.17,135.65 L715.22,138.00 L718.27,140.05 L721.33,140.55 L724.38,139.57 L727.43,134.97 L730.48,134.02 L733.54,138.55 L736.59,140.07 L739.64,143.59 L742.69,143.08 L745.74,142.50 L748.80,142.50 L751.85,142.62 L754.90,143.12 L757.95,144.62 L761.01,145.00 L764.06,145.00 L767.11,146.01 L770.16,143.91 L773.21,143.52 L776.27,143.21 L779.32,143.23 L782.37,144.42 L785.42,145.88 L788.48,146.52 L791.53,148.52 L794.58,150.23 L797.63,151.89 L800.68,152.67 L803.74,153.59 L806.79,153.53 L809.84,152.21 L812.89,151.94 L815.95,153.02 L819.00,154.21 L822.05,155.31 L825.10,160.15 L828.15,161.30 L831.21,161.87 L834.26,162.44 L837.31,163.27 L840.36,166.79 L843.41,167.39 L846.47,166.51 L849.52,165.69 L852.57,165.30 L855.62,163.98 L858.68,163.93 L861.73,165.07 L864.78,166.45 L867.83,166.98 L870.88,169.50 L873.94,170.71 L876.99,171.58 L880.04,173.50 L883.09,174.34 L886.15,175.89 L889.20,177.33 L892.25,177.31 L895.30,176.43 L898.35,176.70 L901.41,178.20 L904.46,182.23 L907.51,185.01 L910.56,187.71 L913.62,190.21 L916.67,192.50 L919.72,194.89 L922.77,199.16 L925.82,203.74 L928.88,209.16 L931.93,210.72 L934.98,213.74 L938.03,216.76 L941.09,217.64 L944.14,218.53 L947.19,219.30 L950.24,220.11 L953.29,223.04 L956.35,225.86 L959.40,228.68 L962.45,231.49 L965.50,234.31 L968.55,237.13 L971.61,239.95 L974.66,242.76 L977.71,245.58 L980.76,249.20 L983.82,251.15 L986.87,258.20 L989.92,260.57 L992.97,266.96 L996.02,271.54 L999.08,276.12 L1002.13,280.97 L1005.18,280.31 L1008.23,277.24 L1011.29,275.10 L1014.34,272.73 L1017.39,276.48 L1020.44,294.07 L1023.49,297.75 L1026.55,299.52 L1029.60,301.15 L1032.65,307.27 L1035.70,317.75 L1038.76,324.39 L1041.81,329.75 L1044.86,323.89 L1047.91,331.30 L1050.96,334.62 L1054.02,337.25 L1057.07,336.51 L1060.12,343.25 L1063.17,342.16 L1066.23,340.94 L1069.28,342.65 L1072.33,344.78 L1075.38,344.77 L1078.43,343.27 L1081.49,342.31 L1084.54,341.62 L1087.59,343.64 L1090.64,348.27 L1093.70,360.19 L1096.75,362.50 L1099.80,362.50 L1102.85,367.41 L1105.90,369.07 L1108.96,371.52 L1112.01,373.66 L1115.06,376.65 L1118.11,377.40 L1121.16,376.28 L1124.22,375.13 L1127.27,374.86 L1130.32,374.33 L1133.37,373.85 L1136.43,374.11 L1139.48,376.12 L1142.53,376.72 L1145.58,378.34 L1148.63,379.74 L1151.69,379.68 L1154.74,378.22 L1157.79,376.66 L1160.84,375.97 L1163.90,373.65 L1166.95,371.43 L1170.00,373.63" stroke="#f06868" stroke-width="1.05" fill="none"/><path d="M59.00,416.67 L62.05,419.17 L65.10,418.33 L68.16,379.17 L71.21,388.33 L74.26,399.17 L77.31,395.83 L80.37,385.83 L83.42,402.50 L86.47,385.00 L89.52,353.75 L92.57,352.50 L95.63,322.50 L98.68,277.50 L101.73,311.25 L104.78,352.50 L107.84,381.25 L110.89,352.50 L113.94,300.00 L116.99,261.25 L120.04,248.75 L123.10,275.00 L126.15,313.75 L129.20,332.50 L132.25,271.25 L135.30,315.00 L138.36,353.75 L141.41,358.75 L144.46,381.25 L147.51,382.50 L150.57,383.00 L153.62,383.75 L156.67,381.25 L159.72,335.00 L162.77,265.00 L165.83,262.50 L168.88,326.25 L171.93,393.00 L174.98,370.00 L178.04,360.00 L181.09,353.75 L184.14,327.50 L187.19,342.50 L190.24,377.50 L193.30,377.50 L196.35,377.50 L199.40,378.54 L202.45,373.54 L205.51,367.50 L208.56,375.83 L211.61,393.54 L214.66,389.75 L217.71,395.00 L220.77,397.92 L223.82,405.00 L226.87,408.75 L229.92,411.25 L232.98,413.75 L236.03,408.75 L239.08,404.50 L242.13,400.00 L245.18,388.92 L248.24,363.33 L251.29,337.50 L254.34,329.67 L257.39,333.33 L260.45,354.17 L263.50,363.33 L266.55,365.00 L269.60,352.50 L272.65,360.00 L275.71,371.67 L278.76,383.33 L281.81,367.50 L284.86,356.67 L287.91,370.00 L290.97,380.00 L294.02,383.33 L297.07,365.83 L300.12,345.83 L303.18,355.83 L306.23,363.33 L309.28,370.83 L312.33,373.33 L315.38,380.83 L318.44,370.83 L321.49,369.17 L324.54,368.33 L327.59,341.67 L330.65,320.83 L333.70,273.33 L336.75,285.00 L339.80,300.00 L342.85,311.67 L345.91,315.83 L348.96,275.00 L352.01,243.33 L355.06,260.00 L358.12,281.67 L361.17,263.33 L364.22,254.17 L367.27,264.17 L370.32,266.67 L373.38,268.33 L376.43,255.83 L379.48,254.17 L382.53,253.33 L385.59,270.00 L388.64,290.00 L391.69,301.67 L394.74,295.83 L397.79,273.33 L400.85,256.67 L403.90,269.17 L406.95,263.33 L410.00,255.83 L413.05,263.33 L416.11,273.33 L419.16,274.17 L422.21,277.50 L425.26,270.83 L428.32,259.17 L431.37,250.83 L434.42,248.33 L437.47,238.33 L440.52,238.33 L443.58,236.67 L446.63,245.83 L449.68,245.83 L452.73,240.00 L455.79,219.17 L458.84,216.67 L461.89,236.67 L464.94,239.17 L467.99,225.00 L471.05,211.67 L474.10,201.67 L477.15,195.00 L480.20,186.25 L483.26,192.08 L486.31,184.17 L489.36,175.42 L492.41,173.33 L495.46,176.67 L498.52,166.67 L501.57,163.33 L504.62,167.50 L507.67,169.17 L510.73,169.17 L513.78,156.67 L516.83,172.50 L519.88,176.67 L522.93,183.33 L525.99,176.67 L529.04,169.17 L532.09,167.50 L535.14,164.50 L538.20,160.00 L541.25,152.50 L544.30,146.25 L547.35,157.50 L550.40,143.75 L553.46,143.75 L556.51,139.50 L559.56,130.00 L562.61,127.00 L565.66,141.25 L568.72,145.00 L571.77,149.50 L574.82,149.50 L577.87,146.25 L580.93,132.50 L583.98,132.50 L587.03,140.00 L590.08,143.75 L593.13,137.00 L596.19,131.25 L599.24,133.75 L602.29,132.50 L605.34,130.50 L608.40,137.00 L611.45,145.00 L614.50,144.50 L617.55,143.75 L620.60,140.00 L623.66,132.50 L626.71,125.00 L629.76,127.00 L632.81,147.00 L635.87,153.75 L638.92,154.50 L641.97,152.50 L645.02,153.00 L648.07,154.50 L651.13,137.50 L654.18,127.50 L657.23,127.50 L660.28,137.50 L663.34,148.75 L666.39,150.50 L669.44,148.00 L672.49,138.75 L675.54,137.50 L678.60,142.00 L681.65,146.25 L684.70,150.50 L687.75,151.25 L690.80,149.50 L693.86,137.00 L696.91,129.50 L699.96,139.50 L703.01,151.25 L706.07,141.25 L709.12,120.00 L712.17,122.00 L715.22,126.25 L718.27,154.50 L721.33,155.00 L724.38,162.00 L727.43,151.25 L730.48,139.50 L733.54,135.50 L736.59,139.50 L739.64,144.50 L742.69,134.50 L745.74,128.00 L748.80,133.75 L751.85,146.25 L754.90,154.50 L757.95,150.50 L761.01,143.75 L764.06,152.00 L767.11,138.00 L770.16,125.50 L773.21,148.75 L776.27,149.50 L779.32,153.75 L782.37,148.75 L785.42,165.00 L788.48,157.50 L791.53,160.50 L794.58,155.00 L797.63,170.00 L800.68,158.00 L803.74,138.75 L806.79,136.25 L809.84,139.50 L812.89,132.00 L815.95,159.75 L819.00,155.62 L822.05,144.50 L825.10,153.75 L828.15,161.25 L831.21,167.00 L834.26,158.75 L837.31,158.00 L840.36,157.00 L843.41,153.00 L846.47,152.00 L849.52,152.00 L852.57,147.50 L855.62,155.00 L858.68,163.75 L861.73,165.50 L864.78,165.50 L867.83,167.00 L870.88,164.50 L873.94,167.50 L876.99,172.00 L880.04,175.00 L883.09,178.75 L886.15,180.00 L889.20,180.50 L892.25,183.75 L895.30,185.00 L898.35,187.00 L901.41,190.00 L904.46,198.75 L907.51,190.00 L910.56,186.25 L913.62,190.00 L916.67,178.75 L919.72,177.50 L922.77,191.25 L925.82,182.50 L928.88,183.75 L931.93,197.50 L934.98,195.50 L938.03,198.75 L941.09,206.25 L944.14,208.75 L947.19,213.75 L950.24,222.50 L953.29,231.25 L956.35,238.00 L959.40,233.75 L962.45,212.50 L965.50,223.75 L968.55,239.50 L971.61,240.50 L974.66,241.25 L977.71,245.00 L980.76,233.75 L983.82,215.00 L986.87,212.00 L989.92,225.00 L992.97,250.00 L996.02,260.00 L999.08,270.00 L1002.13,250.00 L1005.18,231.25 L1008.23,221.25 L1011.29,230.00 L1014.34,242.50 L1017.39,260.00 L1020.44,282.50 L1023.49,315.00 L1026.55,323.75 L1029.60,314.50 L1032.65,317.50 L1035.70,332.50 L1038.76,315.38 L1041.81,283.12 L1044.86,273.12 L1047.91,261.88 L1050.96,248.75 L1054.02,256.25 L1057.07,266.25 L1060.12,269.38 L1063.17,288.12 L1066.23,310.00" stroke="#000" stroke-width="2.6" fill="none" stroke-linejoin="round"/><path d="M58.5,59H1170" stroke="#8c8c8c" stroke-width="1.5" fill="none"/><path d="M1169.6,58.5V526.5" stroke="#555" stroke-width="1.1" fill="none"/><path d="M59,58.5V527" stroke="#6a6a6a" stroke-width="2" fill="none"/><path d="M52,76.30H59 M52,121.39H59 M52,166.48H59 M52,211.57H59 M52,256.66H59 M52,301.75H59 M52,346.84H59 M52,391.92H59 M52,437.01H59 M52,482.10H59" stroke="#111" stroke-width="1.1" fill="none"/><path d="M59.00,526V534 M62.05,526V534 M65.10,526V534 M68.16,526V534 M71.21,526V534 M74.26,526V534 M77.31,526V534 M80.37,526V534 M83.42,526V534 M86.47,526V534 M89.52,526V534 M92.57,526V534 M95.63,526V534 M98.68,526V534 M101.73,526V534 M104.78,526V534 M107.84,526V534 M110.89,526V534 M113.94,526V534 M116.99,526V534 M120.04,526V534 M123.10,526V534 M126.15,526V534 M129.20,526V534 M132.25,526V534 M135.30,526V534 M138.36,526V534 M141.41,526V534 M144.46,526V534 M147.51,526V534 M150.57,526V534 M153.62,526V534 M156.67,526V534 M159.72,526V534 M162.77,526V534 M165.83,526V534 M168.88,526V534 M171.93,526V534 M174.98,526V534 M178.04,526V534 M181.09,526V534 M184.14,526V534 M187.19,526V534 M190.24,526V534 M193.30,526V534 M196.35,526V534 M199.40,526V534 M202.45,526V534 M205.51,526V534 M208.56,526V534 M211.61,526V534 M214.66,526V534 M217.71,526V534 M220.77,526V534 M223.82,526V534 M226.87,526V534 M229.92,526V534 M232.98,526V534 M236.03,526V534 M239.08,526V534 M242.13,526V534 M245.18,526V534 M248.24,526V534 M251.29,526V534 M254.34,526V534 M257.39,526V534 M260.45,526V534 M263.50,526V534 M266.55,526V534 M269.60,526V534 M272.65,526V534 M275.71,526V534 M278.76,526V534 M281.81,526V534 M284.86,526V534 M287.91,526V534 M290.97,526V534 M294.02,526V534 M297.07,526V534 M300.12,526V534 M303.18,526V534 M306.23,526V534 M309.28,526V534 M312.33,526V534 M315.38,526V534 M318.44,526V534 M321.49,526V534 M324.54,526V534 M327.59,526V534 M330.65,526V534 M333.70,526V534 M336.75,526V534 M339.80,526V534 M342.85,526V534 M345.91,526V534 M348.96,526V534 M352.01,526V534 M355.06,526V534 M358.12,526V534 M361.17,526V534 M364.22,526V534 M367.27,526V534 M370.32,526V534 M373.38,526V534 M376.43,526V534 M379.48,526V534 M382.53,526V534 M385.59,526V534 M388.64,526V534 M391.69,526V534 M394.74,526V534 M397.79,526V534 M400.85,526V534 M403.90,526V534 M406.95,526V534 M410.00,526V534 M413.05,526V534 M416.11,526V534 M419.16,526V534 M422.21,526V534 M425.26,526V534 M428.32,526V534 M431.37,526V534 M434.42,526V534 M437.47,526V534 M440.52,526V534 M443.58,526V534 M446.63,526V534 M449.68,526V534 M452.73,526V534 M455.79,526V534 M458.84,526V534 M461.89,526V534 M464.94,526V534 M467.99,526V534 M471.05,526V534 M474.10,526V534 M477.15,526V534 M480.20,526V534 M483.26,526V534 M486.31,526V534 M489.36,526V534 M492.41,526V534 M495.46,526V534 M498.52,526V534 M501.57,526V534 M504.62,526V534 M507.67,526V534 M510.73,526V534 M513.78,526V534 M516.83,526V534 M519.88,526V534 M522.93,526V534 M525.99,526V534 M529.04,526V534 M532.09,526V534 M535.14,526V534 M538.20,526V534 M541.25,526V534 M544.30,526V534 M547.35,526V534 M550.40,526V534 M553.46,526V534 M556.51,526V534 M559.56,526V534 M562.61,526V534 M565.66,526V534 M568.72,526V534 M571.77,526V534 M574.82,526V534 M577.87,526V534 M580.93,526V534 M583.98,526V534 M587.03,526V534 M590.08,526V534 M593.13,526V534 M596.19,526V534 M599.24,526V534 M602.29,526V534 M605.34,526V534 M608.40,526V534 M611.45,526V534 M614.50,526V534 M617.55,526V534 M620.60,526V534 M623.66,526V534 M626.71,526V534 M629.76,526V534 M632.81,526V534 M635.87,526V534 M638.92,526V534 M641.97,526V534 M645.02,526V534 M648.07,526V534 M651.13,526V534 M654.18,526V534 M657.23,526V534 M660.28,526V534 M663.34,526V534 M666.39,526V534 M669.44,526V534 M672.49,526V534 M675.54,526V534 M678.60,526V534 M681.65,526V534 M684.70,526V534 M687.75,526V534 M690.80,526V534 M693.86,526V534 M696.91,526V534 M699.96,526V534 M703.01,526V534 M706.07,526V534 M709.12,526V534 M712.17,526V534 M715.22,526V534 M718.27,526V534 M721.33,526V534 M724.38,526V534 M727.43,526V534 M730.48,526V534 M733.54,526V534 M736.59,526V534 M739.64,526V534 M742.69,526V534 M745.74,526V534 M748.80,526V534 M751.85,526V534 M754.90,526V534 M757.95,526V534 M761.01,526V534 M764.06,526V534 M767.11,526V534 M770.16,526V534 M773.21,526V534 M776.27,526V534 M779.32,526V534 M782.37,526V534 M785.42,526V534 M788.48,526V534 M791.53,526V534 M794.58,526V534 M797.63,526V534 M800.68,526V534 M803.74,526V534 M806.79,526V534 M809.84,526V534 M812.89,526V534 M815.95,526V534 M819.00,526V534 M822.05,526V534 M825.10,526V534 M828.15,526V534 M831.21,526V534 M834.26,526V534 M837.31,526V534 M840.36,526V534 M843.41,526V534 M846.47,526V534 M849.52,526V534 M852.57,526V534 M855.62,526V534 M858.68,526V534 M861.73,526V534 M864.78,526V534 M867.83,526V534 M870.88,526V534 M873.94,526V534 M876.99,526V534 M880.04,526V534 M883.09,526V534 M886.15,526V534 M889.20,526V534 M892.25,526V534 M895.30,526V534 M898.35,526V534 M901.41,526V534 M904.46,526V534 M907.51,526V534 M910.56,526V534 M913.62,526V534 M916.67,526V534 M919.72,526V534 M922.77,526V534 M925.82,526V534 M928.88,526V534 M931.93,526V534 M934.98,526V534 M938.03,526V534 M941.09,526V534 M944.14,526V534 M947.19,526V534 M950.24,526V534 M953.29,526V534 M956.35,526V534 M959.40,526V534 M962.45,526V534 M965.50,526V534 M968.55,526V534 M971.61,526V534 M974.66,526V534 M977.71,526V534 M980.76,526V534 M983.82,526V534 M986.87,526V534 M989.92,526V534 M992.97,526V534 M996.02,526V534 M999.08,526V534 M1002.13,526V534 M1005.18,526V534 M1008.23,526V534 M1011.29,526V534 M1014.34,526V534 M1017.39,526V534 M1020.44,526V534 M1023.49,526V534 M1026.55,526V534 M1029.60,526V534 M1032.65,526V534 M1035.70,526V534 M1038.76,526V534 M1041.81,526V534 M1044.86,526V534 M1047.91,526V534 M1050.96,526V534 M1054.02,526V534 M1057.07,526V534 M1060.12,526V534 M1063.17,526V534 M1066.23,526V534 M1069.28,526V534 M1072.33,526V534 M1075.38,526V534 M1078.43,526V534 M1081.49,526V534 M1084.54,526V534 M1087.59,526V534 M1090.64,526V534 M1093.70,526V534 M1096.75,526V534 M1099.80,526V534 M1102.85,526V534 M1105.90,526V534 M1108.96,526V534 M1112.01,526V534 M1115.06,526V534 M1118.11,526V534 M1121.16,526V534 M1124.22,526V534 M1127.27,526V534 M1130.32,526V534 M1133.37,526V534 M1136.43,526V534 M1139.48,526V534 M1142.53,526V534 M1145.58,526V534 M1148.63,526V534 M1151.69,526V534 M1154.74,526V534 M1157.79,526V534 M1160.84,526V534 M1163.90,526V534 M1166.95,526V534 M1170.00,526V534" stroke="#333" stroke-width="1" fill="none"/><path d="M59,526.3H1170" stroke="#000" stroke-width="1.2"/><text transform="translate(41.6,76.30) rotate(-90) scale(0.76,1)" text-anchor="middle" font-family="Liberation Sans" font-size="10.3" fill="#000" stroke="#000" stroke-width="0.15">10</text><text transform="translate(41.6,121.39) rotate(-90) scale(0.76,1)" text-anchor="middle" font-family="Liberation Sans" font-size="10.3" fill="#000" stroke="#000" stroke-width="0.15">5</text><text transform="translate(41.6,166.48) rotate(-90) scale(0.76,1)" text-anchor="middle" font-family="Liberation Sans" font-size="10.3" fill="#000" stroke="#000" stroke-width="0.15">0</text><text transform="translate(41.6,211.57) rotate(-90) scale(0.76,1)" text-anchor="middle" font-family="Liberation Sans" font-size="10.3" fill="#000" stroke="#000" stroke-width="0.15">-5</text><text transform="translate(41.6,256.66) rotate(-90) scale(0.76,1)" text-anchor="middle" font-family="Liberation Sans" font-size="10.3" fill="#000" stroke="#000" stroke-width="0.15">-10</text><text transform="translate(41.6,301.75) rotate(-90) scale(0.76,1)" text-anchor="middle" font-family="Liberation Sans" font-size="10.3" fill="#000" stroke="#000" stroke-width="0.15">-15</text><text transform="translate(41.6,346.84) rotate(-90) scale(0.76,1)" text-anchor="middle" font-family="Liberation Sans" font-size="10.3" fill="#000" stroke="#000" stroke-width="0.15">-20</text><text transform="translate(41.6,391.92) rotate(-90) scale(0.76,1)" text-anchor="middle" font-family="Liberation Sans" font-size="10.3" fill="#000" stroke="#000" stroke-width="0.15">-25</text><text transform="translate(41.6,437.01) rotate(-90) scale(0.76,1)" text-anchor="middle" font-family="Liberation Sans" font-size="10.3" fill="#000" stroke="#000" stroke-width="0.15">-30</text><text transform="translate(41.6,482.10) rotate(-90) scale(0.76,1)" text-anchor="middle" font-family="Liberation Sans" font-size="10.3" fill="#000" stroke="#000" stroke-width="0.15">-35</text><text transform="translate(58.70,552.7) scale(0.8,1)" x="0" y="0" text-anchor="middle" font-family="Liberation Sans" font-size="10.2" fill="#000" stroke="#000" stroke-width="0.08">sty 01</text><text transform="translate(89.22,552.7) scale(0.8,1)" x="0" y="0" text-anchor="middle" font-family="Liberation Sans" font-size="10.2" fill="#000" stroke="#000" stroke-width="0.08">sty 11</text><text transform="translate(119.74,552.7) scale(0.8,1)" x="0" y="0" text-anchor="middle" font-family="Liberation Sans" font-size="10.2" fill="#000" stroke="#000" stroke-width="0.08">sty 21</text><text transform="translate(150.27,552.7) scale(0.8,1)" x="0" y="0" text-anchor="middle" font-family="Liberation Sans" font-size="10.2" fill="#000" stroke="#000" stroke-width="0.08">sty 31</text><text transform="translate(180.79,552.7) scale(0.8,1)" x="0" y="0" text-anchor="middle" font-family="Liberation Sans" font-size="10.2" fill="#000" stroke="#000" stroke-width="0.08">lut 10</text><text transform="translate(211.31,552.7) scale(0.8,1)" x="0" y="0" text-anchor="middle" font-family="Liberation Sans" font-size="10.2" fill="#000" stroke="#000" stroke-width="0.08">lut 20</text><text transform="translate(244.88,552.7) scale(0.8,1)" x="0" y="0" text-anchor="middle" font-family="Liberation Sans" font-size="10.2" fill="#000" stroke="#000" stroke-width="0.08">mar 03</text><text transform="translate(281.51,552.7) scale(0.8,1)" x="0" y="0" text-anchor="middle" font-family="Liberation Sans" font-size="10.2" fill="#000" stroke="#000" stroke-width="0.08">mar 15</text><text transform="translate(318.14,552.7) scale(0.8,1)" x="0" y="0" text-anchor="middle" font-family="Liberation Sans" font-size="10.2" fill="#000" stroke="#000" stroke-width="0.08">mar 27</text><text transform="translate(351.71,552.7) scale(0.8,1)" x="0" y="0" text-anchor="middle" font-family="Liberation Sans" font-size="10.2" fill="#000" stroke="#000" stroke-width="0.08">kwi 07</text><text transform="translate(385.29,552.7) scale(0.8,1)" x="0" y="0" text-anchor="middle" font-family="Liberation Sans" font-size="10.2" fill="#000" stroke="#000" stroke-width="0.08">kwi 18</text><text transform="translate(418.86,552.7) scale(0.8,1)" x="0" y="0" text-anchor="middle" font-family="Liberation Sans" font-size="10.2" fill="#000" stroke="#000" stroke-width="0.08">kwi 29</text><text transform="translate(452.43,552.7) scale(0.8,1)" x="0" y="0" text-anchor="middle" font-family="Liberation Sans" font-size="10.2" fill="#000" stroke="#000" stroke-width="0.08">maj 10</text><text transform="translate(486.01,552.7) scale(0.8,1)" x="0" y="0" text-anchor="middle" font-family="Liberation Sans" font-size="10.2" fill="#000" stroke="#000" stroke-width="0.08">maj 21</text><text transform="translate(519.58,552.7) scale(0.8,1)" x="0" y="0" text-anchor="middle" font-family="Liberation Sans" font-size="10.2" fill="#000" stroke="#000" stroke-width="0.08">cze 01</text><text transform="translate(553.16,552.7) scale(0.8,1)" x="0" y="0" text-anchor="middle" font-family="Liberation Sans" font-size="10.2" fill="#000" stroke="#000" stroke-width="0.08">cze 12</text><text transform="translate(586.73,552.7) scale(0.8,1)" x="0" y="0" text-anchor="middle" font-family="Liberation Sans" font-size="10.2" fill="#000" stroke="#000" stroke-width="0.08">cze 23</text><text transform="translate(617.25,552.7) scale(0.8,1)" x="0" y="0" text-anchor="middle" font-family="Liberation Sans" font-size="10.2" fill="#000" stroke="#000" stroke-width="0.08">lip 03</text><text transform="translate(647.77,552.7) scale(0.8,1)" x="0" y="0" text-anchor="middle" font-family="Liberation Sans" font-size="10.2" fill="#000" stroke="#000" stroke-width="0.08">lip 13</text><text transform="translate(678.30,552.7) scale(0.8,1)" x="0" y="0" text-anchor="middle" font-family="Liberation Sans" font-size="10.2" fill="#000" stroke="#000" stroke-width="0.08">lip 23</text><text transform="translate(708.82,552.7) scale(0.8,1)" x="0" y="0" text-anchor="middle" font-family="Liberation Sans" font-size="10.2" fill="#000" stroke="#000" stroke-width="0.08">sie 02</text><text transform="translate(739.34,552.7) scale(0.8,1)" x="0" y="0" text-anchor="middle" font-family="Liberation Sans" font-size="10.2" fill="#000" stroke="#000" stroke-width="0.08">sie 12</text><text transform="translate(769.86,552.7) scale(0.8,1)" x="0" y="0" text-anchor="middle" font-family="Liberation Sans" font-size="10.2" fill="#000" stroke="#000" stroke-width="0.08">sie 22</text><text transform="translate(803.44,552.7) scale(0.8,1)" x="0" y="0" text-anchor="middle" font-family="Liberation Sans" font-size="10.2" fill="#000" stroke="#000" stroke-width="0.08">wrz 02</text><text transform="translate(837.01,552.7) scale(0.8,1)" x="0" y="0" text-anchor="middle" font-family="Liberation Sans" font-size="10.2" fill="#000" stroke="#000" stroke-width="0.08">wrz 13</text><text transform="translate(870.58,552.7) scale(0.8,1)" x="0" y="0" text-anchor="middle" font-family="Liberation Sans" font-size="10.2" fill="#000" stroke="#000" stroke-width="0.08">wrz 24</text><text transform="translate(904.16,552.7) scale(0.8,1)" x="0" y="0" text-anchor="middle" font-family="Liberation Sans" font-size="10.2" fill="#000" stroke="#000" stroke-width="0.08">paź 05</text><text transform="translate(937.73,552.7) scale(0.8,1)" x="0" y="0" text-anchor="middle" font-family="Liberation Sans" font-size="10.2" fill="#000" stroke="#000" stroke-width="0.08">paź 16</text><text transform="translate(971.31,552.7) scale(0.8,1)" x="0" y="0" text-anchor="middle" font-family="Liberation Sans" font-size="10.2" fill="#000" stroke="#000" stroke-width="0.08">paź 27</text><text transform="translate(1001.83,552.7) scale(0.8,1)" x="0" y="0" text-anchor="middle" font-family="Liberation Sans" font-size="10.2" fill="#000" stroke="#000" stroke-width="0.08">lis 06</text><text transform="translate(1029.30,552.7) scale(0.8,1)" x="0" y="0" text-anchor="middle" font-family="Liberation Sans" font-size="10.2" fill="#000" stroke="#000" stroke-width="0.08">lis 15</text><text transform="translate(1056.77,552.7) scale(0.8,1)" x="0" y="0" text-anchor="middle" font-family="Liberation Sans" font-size="10.2" fill="#000" stroke="#000" stroke-width="0.08">lis 24</text><text transform="translate(1087.29,552.7) scale(0.8,1)" x="0" y="0" text-anchor="middle" font-family="Liberation Sans" font-size="10.2" fill="#000" stroke="#000" stroke-width="0.08">gru 04</text><text transform="translate(1120.86,552.7) scale(0.8,1)" x="0" y="0" text-anchor="middle" font-family="Liberation Sans" font-size="10.2" fill="#000" stroke="#000" stroke-width="0.08">gru 15</text><text transform="translate(1154.44,552.7) scale(0.8,1)" x="0" y="0" text-anchor="middle" font-family="Liberation Sans" font-size="10.2" fill="#000" stroke="#000" stroke-width="0.08">gru 26</text><text x="614" y="580.7" text-anchor="middle" font-family="Liberation Sans" font-size="10.8" fill="#111" letter-spacing="0.5">Data</text><text transform="translate(13.6,293) rotate(-90)" text-anchor="middle" font-family="Liberation Sans" font-size="11.5" fill="#111" letter-spacing="0.25">Temperatura</text><text transform="translate(59,19.2) scale(1,0.92)" x="-1" y="0" font-family="Liberation Mono" font-size="16.67" fill="#484848">Przebieg temperatury w roku 2025</text><text transform="translate(59,40) scale(1,0.92)" x="-1.5" y="0" font-family="Liberation Mono" font-size="16.67" fill="#484848">Region: Morze Beauforta</text><text transform="translate(1173.5,19.6) scale(1,0.92)" x="0" y="0" text-anchor="end" font-family="Liberation Mono" font-size="16.55" fill="#484848">Dane: Reanaliza ERA5 (ECMWF)</text><text x="1159" y="38" text-anchor="end" font-family="Liberation Mono" font-size="10" fill="#666">Wizualizacja: Meteomodel.pl</text><text transform="translate(614,53.2) scale(1,0.93)" x="0" y="0" text-anchor="middle" font-family="Liberation Mono" font-size="11.67" fill="#5a5a5a">Ostatnie dane: 2025-11-27 (-15.9°C, anomalia (1981-2010): 5.6°C)</text><path d="M98,81.6H151" stroke="#000" stroke-width="2.8" stroke-linecap="round"/><text x="162" y="85.9" font-family="Liberation Sans" font-size="12.35" fill="#111">2022</text><path d="M97,96.2H152" stroke="#6c6cff" stroke-width="1.3"/><text x="162" y="100.5" font-family="Liberation Sans" font-size="12.35" fill="#111">1981-1990</text><path d="M97,110.5H152" stroke="#2a7a2a" stroke-width="1.15"/><text x="162" y="114.8" font-family="Liberation Sans" font-size="12.35" fill="#111">1991-2000</text><path d="M97,124.8H152" stroke="#ffe27a" stroke-width="2"/><text x="162" y="129.1" font-family="Liberation Sans" font-size="12.35" fill="#111">2001-2010</text><path d="M97,139.3H152" stroke="#ff3a3a" stroke-width="1.05"/><text x="162" y="143.6" font-family="Liberation Sans" font-size="12.35" fill="#111">2011-2020</text><path d="M97,153.7H152" stroke="#ff0000" stroke-width="2" stroke-dasharray="7 5"/><text x="162" y="158.0" font-family="Liberation Sans" font-size="12.35" fill="#111">1991-2020</text><path d="M97,168H152" stroke="#2222ff" stroke-width="2" stroke-dasharray="7 5"/><text x="162" y="172.3" font-family="Liberation Sans" font-size="12.35" fill="#111">1951-1980</text><path d="M97.5,182.4H150.5" stroke="#e6e6e6" stroke-width="5.2" stroke-linecap="round"/><text x="162" y="186.7" font-family="Liberation Sans" font-size="12.35" fill="#111">max-min 1950-2021</text></svg></body></html>
